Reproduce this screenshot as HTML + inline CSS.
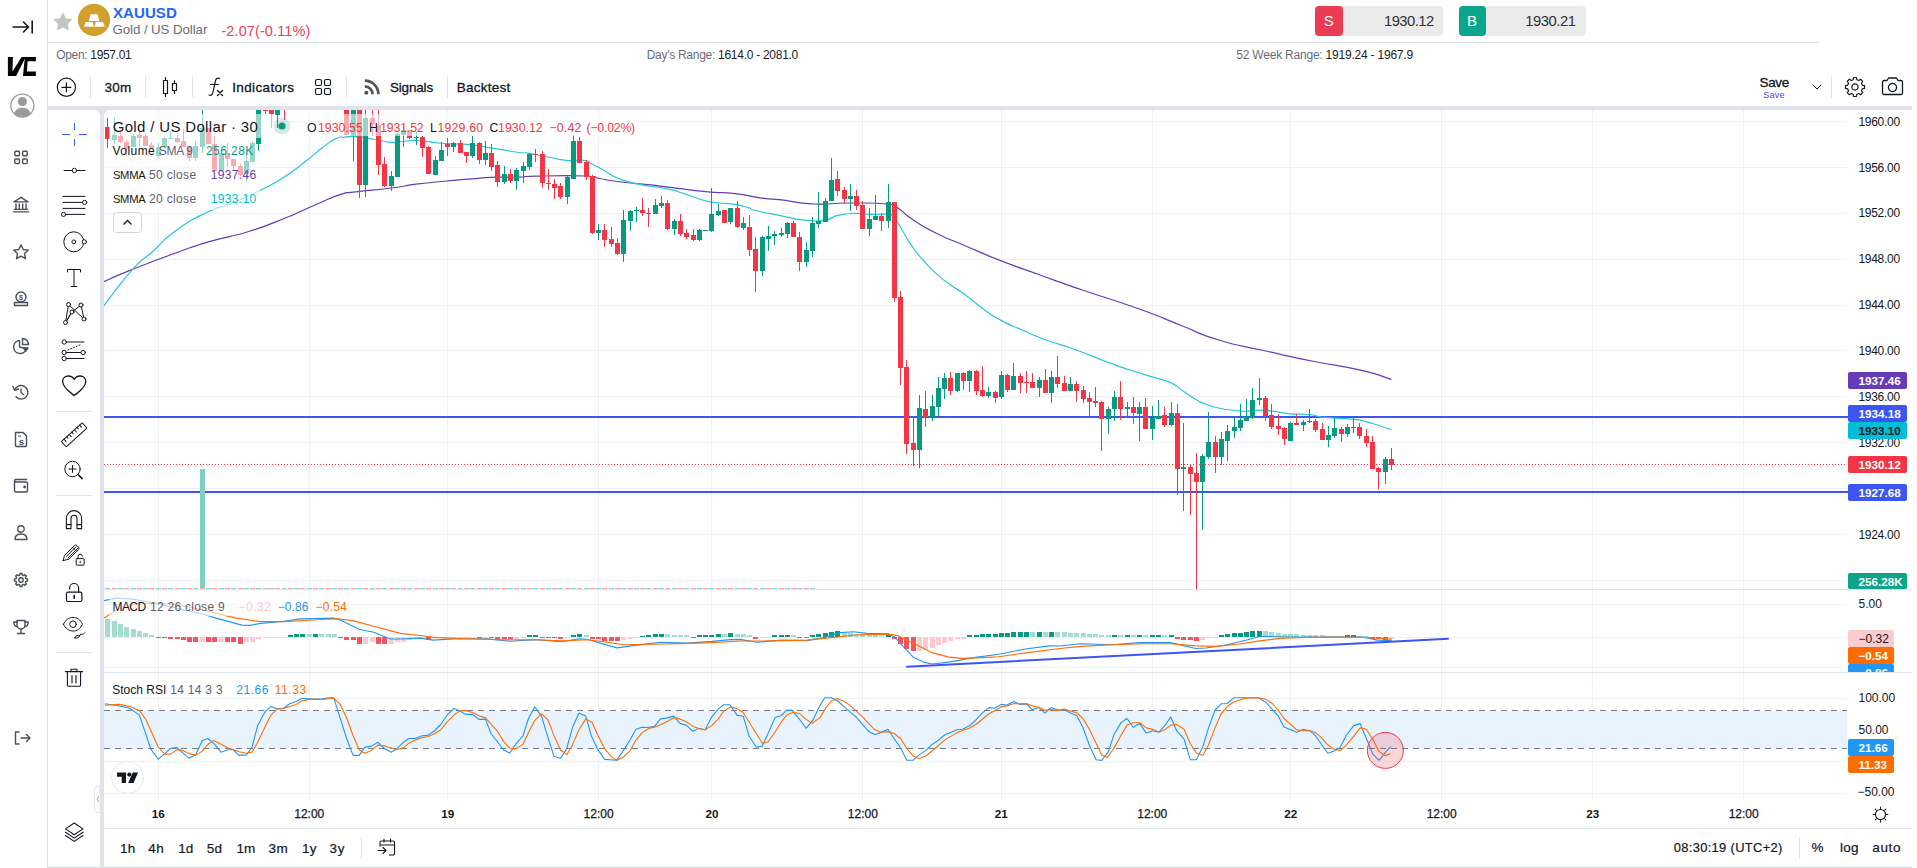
<!DOCTYPE html><html><head><meta charset="utf-8"><title>XAUUSD Chart</title><style>
*{box-sizing:border-box;margin:0;padding:0}
html,body{width:1917px;height:868px;overflow:hidden;background:#fff}
body{font-family:"Liberation Sans",sans-serif;color:#131722;position:relative}
.abs{position:absolute}
.chart{position:absolute;left:0;top:0}
.t{position:absolute;white-space:nowrap;line-height:1}
.sep{position:absolute;width:1px;background:#E0E3EB}
.ic{position:absolute}
.b{display:inline-block;width:0;height:0}
</style></head><body><div class="abs" style="left:47px;top:0;width:1px;height:868px;background:#E0E3EB"></div><div class="abs" style="left:48px;top:42px;width:1771px;height:1px;background:#DADDE3"></div><div class="abs" style="left:48px;top:106px;width:1864px;height:4px;background:#E0E3EB"></div><div class="abs" style="left:100px;top:106px;width:4px;height:762px;background:#E0E3EB"></div><svg class="chart" width="1917" height="868"><rect x="47.5" y="866.5" width="1864.5" height="1.5" fill="#E0E3EB"/></svg><div class="abs" style="left:104px;top:110px;width:8px;height:8px;background:#E0E3EB"></div><div class="abs" style="left:104px;top:110px;width:16px;height:16px;background:#fff;border-top-left-radius:6px"></div><div class="abs" style="left:92px;top:110px;width:8px;height:8px;background:#E0E3EB"></div><div class="abs" style="left:84px;top:110px;width:16px;height:16px;background:#fff;border-top-right-radius:6px"></div><svg class="chart" width="1917" height="868" viewBox="0 0 1917 868" font-family="Liberation Sans, sans-serif"><defs><clipPath id="cm"><rect x="104" y="110" width="1743" height="479"/></clipPath><clipPath id="c2"><rect x="104" y="590" width="1743" height="82"/></clipPath><clipPath id="c3"><rect x="104" y="673" width="1743" height="127"/></clipPath><clipPath id="cax"><rect x="1847" y="590" width="66" height="82"/></clipPath></defs><rect x="158" y="110" width="1" height="690" fill="#F0F1F4"/><rect x="309" y="110" width="1" height="690" fill="#F0F1F4"/><rect x="447" y="110" width="1" height="690" fill="#F0F1F4"/><rect x="598" y="110" width="1" height="690" fill="#F0F1F4"/><rect x="711" y="110" width="1" height="690" fill="#F0F1F4"/><rect x="862" y="110" width="1" height="690" fill="#F0F1F4"/><rect x="1001" y="110" width="1" height="690" fill="#F0F1F4"/><rect x="1152" y="110" width="1" height="690" fill="#F0F1F4"/><rect x="1290" y="110" width="1" height="690" fill="#F0F1F4"/><rect x="1441" y="110" width="1" height="690" fill="#F0F1F4"/><rect x="1592" y="110" width="1" height="690" fill="#F0F1F4"/><rect x="1743" y="110" width="1" height="690" fill="#F0F1F4"/><rect x="104" y="121" width="1743" height="1" fill="#F0F1F4"/><rect x="104" y="167" width="1743" height="1" fill="#F0F1F4"/><rect x="104" y="213" width="1743" height="1" fill="#F0F1F4"/><rect x="104" y="259" width="1743" height="1" fill="#F0F1F4"/><rect x="104" y="305" width="1743" height="1" fill="#F0F1F4"/><rect x="104" y="350" width="1743" height="1" fill="#F0F1F4"/><rect x="104" y="396" width="1743" height="1" fill="#F0F1F4"/><rect x="104" y="442" width="1743" height="1" fill="#F0F1F4"/><rect x="104" y="488" width="1743" height="1" fill="#F0F1F4"/><rect x="104" y="534" width="1743" height="1" fill="#F0F1F4"/><rect x="104" y="580" width="1743" height="1" fill="#F0F1F4"/><rect x="104" y="604" width="1743" height="1" fill="#F0F1F4"/><rect x="104" y="637" width="1743" height="1" fill="#F0F1F4"/><rect x="104" y="667" width="1743" height="1" fill="#F0F1F4"/><rect x="104" y="698" width="1743" height="1" fill="#F0F1F4"/><rect x="104" y="730" width="1743" height="1" fill="#F0F1F4"/><rect x="104" y="761" width="1743" height="1" fill="#F0F1F4"/><rect x="104" y="793" width="1743" height="1" fill="#F0F1F4"/><rect x="104" y="711" width="1743" height="38" fill="#E8F3FD"/><path d="M104 710.5H1847M104 748.5H1847" stroke="#787B86" stroke-width="1" stroke-dasharray="6 5" fill="none"/><rect x="104" y="589" width="1808" height="1" fill="#E0E3EB"/><rect x="104" y="672" width="1808" height="1" fill="#E0E3EB"/><rect x="104" y="828" width="1808" height="1" fill="#E0E3EB"/><rect x="104" y="416" width="1744" height="2" fill="#3D55F2"/><rect x="104" y="491" width="1744" height="2" fill="#3D55F2"/><g clip-path="url(#cm)" fill="none" stroke-linejoin="round" stroke-linecap="round"><path d="M103.8 281.7C112.0 278.2 109.9 278.4 131.3 269.9C152.7 261.3 151.4 261.8 175.1 253.2C198.8 244.7 187.8 248.0 210.2 241.4C232.5 234.8 227.3 238.3 249.6 231.3C271.9 224.3 271.0 223.4 284.6 218.2C298.2 213.0 284.5 218.6 295.0 214.0C305.5 209.4 305.9 208.9 319.6 203.0C333.3 197.1 329.9 197.8 340.8 194.4C351.7 191.0 340.8 193.7 356.0 191.8C371.2 189.9 373.5 190.3 391.5 188.0C409.5 185.7 399.4 186.3 416.0 184.2C432.6 182.1 430.0 182.6 447.0 181.0C464.0 179.4 458.1 179.9 472.6 178.8C487.2 177.7 481.4 177.7 495.5 177.2C509.6 176.7 507.6 177.5 519.5 177.2C531.4 176.9 515.8 176.6 535.2 176.2C554.6 175.8 564.8 175.3 584.2 176.0C603.6 176.7 590.0 176.8 600.0 178.5C610.0 180.2 597.6 179.0 617.5 181.5C637.4 184.0 640.0 183.7 666.4 186.8C692.8 189.9 685.0 189.7 705.6 191.7C726.2 193.7 718.7 191.7 735.0 193.6C751.3 195.5 746.7 196.1 760.0 197.9C773.3 199.7 762.9 197.9 779.2 199.7C795.5 201.5 793.3 203.0 814.4 204.0C835.5 205.0 827.3 202.9 849.6 203.0C871.9 203.1 874.1 202.5 888.8 204.2C903.5 205.8 891.6 204.0 898.6 208.5C905.6 213.0 901.1 212.0 912.3 219.3C923.5 226.7 920.0 225.1 935.8 233.0C951.6 240.9 945.8 237.5 965.1 245.7C984.4 253.9 977.5 251.6 1000.0 260.4C1022.5 269.2 1015.2 266.1 1040.0 275.0C1064.8 283.9 1052.5 279.7 1082.5 290.0C1112.5 300.3 1110.8 298.8 1140.0 309.3C1169.2 319.8 1156.4 315.8 1180.0 325.0C1203.6 334.2 1193.7 332.4 1218.8 340.0C1243.9 347.6 1235.9 344.2 1263.7 350.5C1291.5 356.8 1282.9 355.2 1311.6 361.0C1340.3 366.8 1335.7 364.4 1359.5 369.9C1383.3 375.4 1381.5 376.5 1391.0 379.3" stroke="#673AB7" stroke-width="1.2"/><path d="M103.8 305.8C112.0 295.3 116.5 287.2 131.3 270.8C146.1 254.4 140.1 262.9 153.2 251.0C166.3 239.2 159.4 242.7 175.1 231.3C190.8 219.9 188.1 221.6 205.5 213.0C222.9 204.4 217.9 208.8 233.0 202.6C248.1 196.4 240.7 200.1 255.9 192.5C271.1 184.9 268.2 187.1 283.8 177.2C299.4 167.3 296.4 168.3 307.9 159.5C319.4 150.7 313.6 154.3 322.0 148.0C330.4 141.7 328.9 141.8 335.8 138.6C342.7 135.4 338.9 137.8 345.0 137.2C351.1 136.6 347.0 136.0 356.0 136.7C365.0 137.4 364.4 137.8 375.0 139.5C385.6 141.2 383.1 141.8 391.5 142.4C399.9 143.0 395.6 142.1 403.0 141.5C410.4 140.9 405.4 140.1 416.0 140.5C426.6 140.9 426.7 141.9 438.4 143.0C450.1 144.1 444.7 143.4 455.0 144.0C465.3 144.6 460.5 143.6 472.6 145.0C484.8 146.4 481.4 146.4 495.5 148.7C509.6 150.9 509.3 151.1 519.5 152.5C529.7 153.9 520.9 152.0 529.4 153.3C537.9 154.7 536.8 154.9 548.0 157.0C559.2 159.1 555.7 159.3 566.6 160.3C577.5 161.3 576.6 159.2 584.2 160.3C591.8 161.4 585.8 160.8 592.0 164.0C598.2 167.2 597.4 166.8 605.0 171.0C612.6 175.2 607.9 174.2 617.5 178.0C627.1 181.8 622.3 180.6 637.0 183.8C651.7 187.0 652.0 185.6 666.4 188.7C680.8 191.8 673.2 190.3 685.0 194.0C696.8 197.7 695.1 198.2 705.6 200.9C716.1 203.6 711.2 201.9 720.0 203.0C728.8 204.1 726.6 203.1 735.0 204.4C743.4 205.8 741.8 205.7 748.0 207.5C754.2 209.3 746.3 208.1 755.7 210.5C765.1 212.9 763.9 212.5 779.2 215.4C794.5 218.3 792.5 219.0 806.6 220.3C820.7 221.7 816.7 221.4 826.1 219.9C835.5 218.4 829.1 217.3 837.9 215.4C846.7 213.5 846.1 213.7 855.5 213.4C864.9 213.1 859.2 214.1 869.2 214.4C879.2 214.7 881.7 213.6 888.8 214.4C895.9 215.2 890.1 214.1 893.0 217.0C895.9 219.9 895.0 218.8 898.6 224.2C902.2 229.6 900.9 228.2 905.0 235.0C909.1 241.8 906.9 239.2 912.3 246.7C917.7 254.2 916.0 252.1 923.0 260.0C930.0 267.9 927.7 265.8 935.8 273.1C943.9 280.5 941.2 278.0 950.0 284.5C958.8 291.0 954.7 287.1 965.1 294.7C975.5 302.3 973.8 302.1 984.7 309.9C995.6 317.7 990.3 314.6 1001.5 320.6C1012.7 326.6 1009.2 324.4 1022.0 330.0C1034.8 335.6 1027.7 333.1 1044.2 339.2C1060.7 345.3 1058.0 343.3 1077.0 350.2C1096.0 357.1 1091.7 356.3 1107.6 362.2C1123.5 368.1 1116.7 365.6 1130.0 370.0C1143.3 374.4 1140.1 373.2 1152.1 376.9C1164.1 380.6 1160.8 378.2 1170.1 382.4C1179.4 386.6 1175.1 385.8 1183.0 391.0C1190.9 396.2 1189.2 395.6 1196.4 399.7C1203.6 403.8 1200.4 402.0 1207.0 404.5C1213.6 407.0 1210.1 406.2 1218.5 408.0C1226.9 409.8 1226.4 409.5 1235.1 410.5C1243.8 411.5 1240.1 411.3 1247.6 411.2C1255.1 411.1 1252.5 410.1 1260.0 410.1C1267.5 410.1 1263.5 410.1 1272.5 411.2C1281.5 412.3 1279.1 412.8 1290.0 413.8C1300.9 414.8 1298.1 413.4 1308.7 414.5C1319.3 415.6 1312.0 416.0 1325.3 417.4C1338.6 418.8 1340.5 417.8 1353.0 419.1C1365.5 420.5 1359.0 420.0 1366.8 421.9C1374.6 423.8 1371.7 423.2 1379.0 425.5C1386.3 427.8 1387.4 428.4 1391.0 429.7" stroke="#26C6DA" stroke-width="1.2"/></g><g clip-path="url(#cm)" shape-rendering="crispEdges"><rect x="200" y="469" width="5" height="120" fill="#7FD0C3"/><rect x="105" y="588" width="5" height="1" fill="#92D2CC"/><rect x="112" y="588" width="5" height="1" fill="#F7A9A7"/><rect x="118" y="588" width="5" height="1" fill="#92D2CC"/><rect x="124" y="588" width="5" height="1" fill="#F7A9A7"/><rect x="131" y="588" width="5" height="1" fill="#92D2CC"/><rect x="137" y="588" width="5" height="1" fill="#F7A9A7"/><rect x="143" y="588" width="5" height="1" fill="#92D2CC"/><rect x="149" y="588" width="5" height="1" fill="#F7A9A7"/><rect x="156" y="588" width="5" height="1" fill="#92D2CC"/><rect x="162" y="588" width="5" height="1" fill="#F7A9A7"/><rect x="168" y="588" width="5" height="1" fill="#92D2CC"/><rect x="175" y="588" width="5" height="1" fill="#F7A9A7"/><rect x="181" y="588" width="5" height="1" fill="#92D2CC"/><rect x="187" y="588" width="5" height="1" fill="#F7A9A7"/><rect x="193" y="588" width="5" height="1" fill="#92D2CC"/><rect x="200" y="588" width="5" height="1" fill="#F7A9A7"/><rect x="206" y="588" width="5" height="1" fill="#92D2CC"/><rect x="212" y="588" width="5" height="1" fill="#F7A9A7"/><rect x="219" y="588" width="5" height="1" fill="#92D2CC"/><rect x="225" y="588" width="5" height="1" fill="#F7A9A7"/><rect x="231" y="588" width="5" height="1" fill="#92D2CC"/><rect x="238" y="588" width="5" height="1" fill="#F7A9A7"/><rect x="244" y="588" width="5" height="1" fill="#92D2CC"/><rect x="250" y="588" width="5" height="1" fill="#F7A9A7"/><rect x="256" y="588" width="5" height="1" fill="#92D2CC"/><rect x="263" y="588" width="5" height="1" fill="#F7A9A7"/><rect x="269" y="588" width="5" height="1" fill="#92D2CC"/><rect x="275" y="588" width="5" height="1" fill="#F7A9A7"/><rect x="282" y="588" width="5" height="1" fill="#92D2CC"/><rect x="288" y="588" width="5" height="1" fill="#F7A9A7"/><rect x="294" y="588" width="5" height="1" fill="#92D2CC"/><rect x="300" y="588" width="5" height="1" fill="#F7A9A7"/><rect x="307" y="588" width="5" height="1" fill="#92D2CC"/><rect x="313" y="588" width="5" height="1" fill="#F7A9A7"/><rect x="319" y="588" width="5" height="1" fill="#92D2CC"/><rect x="326" y="588" width="5" height="1" fill="#F7A9A7"/><rect x="332" y="588" width="5" height="1" fill="#92D2CC"/><rect x="338" y="588" width="5" height="1" fill="#F7A9A7"/><rect x="344" y="588" width="5" height="1" fill="#92D2CC"/><rect x="351" y="588" width="5" height="1" fill="#F7A9A7"/><rect x="357" y="588" width="5" height="1" fill="#92D2CC"/><rect x="363" y="588" width="5" height="1" fill="#F7A9A7"/><rect x="370" y="588" width="5" height="1" fill="#92D2CC"/><rect x="376" y="588" width="5" height="1" fill="#F7A9A7"/><rect x="382" y="588" width="5" height="1" fill="#92D2CC"/><rect x="389" y="588" width="5" height="1" fill="#F7A9A7"/><rect x="395" y="588" width="5" height="1" fill="#92D2CC"/><rect x="401" y="588" width="5" height="1" fill="#F7A9A7"/><rect x="407" y="588" width="5" height="1" fill="#92D2CC"/><rect x="414" y="588" width="5" height="1" fill="#F7A9A7"/><rect x="420" y="588" width="5" height="1" fill="#92D2CC"/><rect x="426" y="588" width="5" height="1" fill="#F7A9A7"/><rect x="433" y="588" width="5" height="1" fill="#92D2CC"/><rect x="439" y="588" width="5" height="1" fill="#F7A9A7"/><rect x="445" y="588" width="5" height="1" fill="#92D2CC"/><rect x="451" y="588" width="5" height="1" fill="#F7A9A7"/><rect x="458" y="588" width="5" height="1" fill="#92D2CC"/><rect x="464" y="588" width="5" height="1" fill="#F7A9A7"/><rect x="470" y="588" width="5" height="1" fill="#92D2CC"/><rect x="477" y="588" width="5" height="1" fill="#F7A9A7"/><rect x="483" y="588" width="5" height="1" fill="#92D2CC"/><rect x="489" y="588" width="5" height="1" fill="#F7A9A7"/><rect x="495" y="588" width="5" height="1" fill="#92D2CC"/><rect x="502" y="588" width="5" height="1" fill="#F7A9A7"/><rect x="508" y="588" width="5" height="1" fill="#92D2CC"/><rect x="514" y="588" width="5" height="1" fill="#F7A9A7"/><rect x="521" y="588" width="5" height="1" fill="#92D2CC"/><rect x="527" y="588" width="5" height="1" fill="#F7A9A7"/><rect x="533" y="588" width="5" height="1" fill="#92D2CC"/><rect x="540" y="588" width="5" height="1" fill="#F7A9A7"/><rect x="546" y="588" width="5" height="1" fill="#92D2CC"/><rect x="552" y="588" width="5" height="1" fill="#F7A9A7"/><rect x="558" y="588" width="5" height="1" fill="#92D2CC"/><rect x="565" y="588" width="5" height="1" fill="#F7A9A7"/><rect x="571" y="588" width="5" height="1" fill="#92D2CC"/><rect x="577" y="588" width="5" height="1" fill="#F7A9A7"/><rect x="584" y="588" width="5" height="1" fill="#92D2CC"/><rect x="590" y="588" width="5" height="1" fill="#F7A9A7"/><rect x="596" y="588" width="5" height="1" fill="#92D2CC"/><rect x="602" y="588" width="5" height="1" fill="#F7A9A7"/><rect x="609" y="588" width="5" height="1" fill="#92D2CC"/><rect x="615" y="588" width="5" height="1" fill="#F7A9A7"/><rect x="621" y="588" width="5" height="1" fill="#92D2CC"/><rect x="628" y="588" width="5" height="1" fill="#F7A9A7"/><rect x="634" y="588" width="5" height="1" fill="#92D2CC"/><rect x="640" y="588" width="5" height="1" fill="#F7A9A7"/><rect x="646" y="588" width="5" height="1" fill="#92D2CC"/><rect x="653" y="588" width="5" height="1" fill="#F7A9A7"/><rect x="659" y="588" width="5" height="1" fill="#92D2CC"/><rect x="665" y="588" width="5" height="1" fill="#F7A9A7"/><rect x="672" y="588" width="5" height="1" fill="#92D2CC"/><rect x="678" y="588" width="5" height="1" fill="#F7A9A7"/><rect x="684" y="588" width="5" height="1" fill="#92D2CC"/><rect x="691" y="588" width="5" height="1" fill="#F7A9A7"/><rect x="697" y="588" width="5" height="1" fill="#92D2CC"/><rect x="703" y="588" width="5" height="1" fill="#F7A9A7"/><rect x="709" y="588" width="5" height="1" fill="#92D2CC"/><rect x="716" y="588" width="5" height="1" fill="#F7A9A7"/><rect x="722" y="588" width="5" height="1" fill="#92D2CC"/><rect x="728" y="588" width="5" height="1" fill="#F7A9A7"/><rect x="735" y="588" width="5" height="1" fill="#92D2CC"/><rect x="741" y="588" width="5" height="1" fill="#F7A9A7"/><rect x="747" y="588" width="5" height="1" fill="#92D2CC"/><rect x="753" y="588" width="5" height="1" fill="#F7A9A7"/><rect x="760" y="588" width="5" height="1" fill="#92D2CC"/><rect x="766" y="588" width="5" height="1" fill="#F7A9A7"/><rect x="772" y="588" width="5" height="1" fill="#92D2CC"/><rect x="779" y="588" width="5" height="1" fill="#F7A9A7"/><rect x="785" y="588" width="5" height="1" fill="#92D2CC"/><rect x="791" y="588" width="5" height="1" fill="#F7A9A7"/><rect x="797" y="588" width="5" height="1" fill="#92D2CC"/><rect x="804" y="588" width="5" height="1" fill="#F7A9A7"/><rect x="810" y="588" width="5" height="1" fill="#92D2CC"/><rect x="107" y="118" width="1" height="30" fill="#F23645"/><rect x="105" y="127" width="5" height="12" fill="#F23645"/><rect x="114" y="118" width="1" height="26" fill="#089981"/><rect x="112" y="135" width="5" height="5" fill="#089981"/><rect x="120" y="131" width="1" height="12" fill="#F23645"/><rect x="118" y="136" width="5" height="6" fill="#F23645"/><rect x="126" y="140" width="1" height="16" fill="#F23645"/><rect x="124" y="142" width="5" height="7" fill="#F23645"/><rect x="133" y="134" width="1" height="13" fill="#089981"/><rect x="131" y="136" width="5" height="11" fill="#089981"/><rect x="139" y="132" width="1" height="15" fill="#F23645"/><rect x="137" y="135" width="5" height="3" fill="#F23645"/><rect x="145" y="134" width="1" height="12" fill="#F23645"/><rect x="143" y="136" width="5" height="10" fill="#F23645"/><rect x="151" y="142" width="1" height="7" fill="#F23645"/><rect x="149" y="145" width="5" height="4" fill="#F23645"/><rect x="158" y="143" width="1" height="14" fill="#089981"/><rect x="156" y="147" width="5" height="9" fill="#089981"/><rect x="164" y="137" width="1" height="10" fill="#089981"/><rect x="162" y="138" width="5" height="9" fill="#089981"/><rect x="170" y="131" width="1" height="8" fill="#089981"/><rect x="168" y="138" width="5" height="1" fill="#089981"/><rect x="177" y="135" width="1" height="8" fill="#F23645"/><rect x="175" y="138" width="5" height="4" fill="#F23645"/><rect x="183" y="129" width="1" height="18" fill="#F23645"/><rect x="181" y="141" width="5" height="6" fill="#F23645"/><rect x="189" y="147" width="1" height="14" fill="#F23645"/><rect x="187" y="147" width="5" height="11" fill="#F23645"/><rect x="195" y="141" width="1" height="20" fill="#089981"/><rect x="193" y="146" width="5" height="12" fill="#089981"/><rect x="202" y="110" width="1" height="43" fill="#089981"/><rect x="200" y="128" width="5" height="19" fill="#089981"/><rect x="208" y="128" width="1" height="16" fill="#F23645"/><rect x="206" y="128" width="5" height="16" fill="#F23645"/><rect x="214" y="136" width="1" height="35" fill="#F23645"/><rect x="212" y="144" width="5" height="27" fill="#F23645"/><rect x="221" y="153" width="1" height="18" fill="#089981"/><rect x="219" y="153" width="5" height="18" fill="#089981"/><rect x="227" y="143" width="1" height="24" fill="#F23645"/><rect x="225" y="153" width="5" height="6" fill="#F23645"/><rect x="233" y="159" width="1" height="11" fill="#F23645"/><rect x="231" y="159" width="5" height="7" fill="#F23645"/><rect x="240" y="164" width="1" height="12" fill="#F23645"/><rect x="238" y="166" width="5" height="9" fill="#F23645"/><rect x="246" y="153" width="1" height="29" fill="#089981"/><rect x="244" y="161" width="5" height="13" fill="#089981"/><rect x="252" y="141" width="1" height="21" fill="#089981"/><rect x="250" y="143" width="5" height="19" fill="#089981"/><rect x="258" y="95" width="1" height="56" fill="#089981"/><rect x="256" y="95" width="5" height="49" fill="#089981"/><rect x="265" y="95" width="1" height="19" fill="#F23645"/><rect x="263" y="95" width="5" height="16" fill="#F23645"/><rect x="271" y="95" width="1" height="33" fill="#F23645"/><rect x="269" y="95" width="5" height="19" fill="#F23645"/><rect x="277" y="95" width="1" height="33" fill="#089981"/><rect x="275" y="95" width="5" height="20" fill="#089981"/><rect x="284" y="95" width="1" height="25" fill="#F23645"/><rect x="282" y="95" width="5" height="10" fill="#F23645"/><rect x="346" y="95" width="1" height="40" fill="#F23645"/><rect x="344" y="95" width="5" height="40" fill="#F23645"/><rect x="353" y="95" width="1" height="66" fill="#089981"/><rect x="351" y="95" width="5" height="41" fill="#089981"/><rect x="359" y="95" width="1" height="103" fill="#F23645"/><rect x="357" y="95" width="5" height="90" fill="#F23645"/><rect x="365" y="95" width="1" height="102" fill="#089981"/><rect x="363" y="118" width="5" height="67" fill="#089981"/><rect x="372" y="95" width="1" height="41" fill="#F23645"/><rect x="370" y="118" width="5" height="6" fill="#F23645"/><rect x="378" y="95" width="1" height="80" fill="#F23645"/><rect x="376" y="125" width="5" height="40" fill="#F23645"/><rect x="384" y="157" width="1" height="30" fill="#F23645"/><rect x="382" y="164" width="5" height="22" fill="#F23645"/><rect x="391" y="171" width="1" height="20" fill="#089981"/><rect x="389" y="176" width="5" height="10" fill="#089981"/><rect x="397" y="131" width="1" height="46" fill="#089981"/><rect x="395" y="134" width="5" height="43" fill="#089981"/><rect x="403" y="126" width="1" height="21" fill="#089981"/><rect x="401" y="130" width="5" height="5" fill="#089981"/><rect x="409" y="130" width="1" height="9" fill="#F23645"/><rect x="407" y="130" width="5" height="8" fill="#F23645"/><rect x="416" y="132" width="1" height="13" fill="#089981"/><rect x="414" y="137" width="5" height="1" fill="#089981"/><rect x="422" y="136" width="1" height="21" fill="#F23645"/><rect x="420" y="137" width="5" height="11" fill="#F23645"/><rect x="428" y="146" width="1" height="28" fill="#F23645"/><rect x="426" y="147" width="5" height="27" fill="#F23645"/><rect x="435" y="156" width="1" height="19" fill="#089981"/><rect x="433" y="160" width="5" height="15" fill="#089981"/><rect x="441" y="142" width="1" height="19" fill="#089981"/><rect x="439" y="150" width="5" height="11" fill="#089981"/><rect x="447" y="138" width="1" height="18" fill="#F23645"/><rect x="445" y="144" width="5" height="3" fill="#F23645"/><rect x="453" y="142" width="1" height="10" fill="#089981"/><rect x="451" y="143" width="5" height="4" fill="#089981"/><rect x="460" y="140" width="1" height="13" fill="#F23645"/><rect x="458" y="143" width="5" height="10" fill="#F23645"/><rect x="466" y="152" width="1" height="11" fill="#F23645"/><rect x="464" y="152" width="5" height="4" fill="#F23645"/><rect x="472" y="136" width="1" height="22" fill="#089981"/><rect x="470" y="143" width="5" height="13" fill="#089981"/><rect x="479" y="142" width="1" height="22" fill="#F23645"/><rect x="477" y="143" width="5" height="17" fill="#F23645"/><rect x="485" y="141" width="1" height="24" fill="#089981"/><rect x="483" y="153" width="5" height="7" fill="#089981"/><rect x="491" y="144" width="1" height="27" fill="#F23645"/><rect x="489" y="153" width="5" height="14" fill="#F23645"/><rect x="497" y="161" width="1" height="26" fill="#F23645"/><rect x="495" y="165" width="5" height="17" fill="#F23645"/><rect x="504" y="166" width="1" height="18" fill="#089981"/><rect x="502" y="174" width="5" height="8" fill="#089981"/><rect x="510" y="169" width="1" height="14" fill="#F23645"/><rect x="508" y="174" width="5" height="7" fill="#F23645"/><rect x="516" y="168" width="1" height="22" fill="#089981"/><rect x="514" y="170" width="5" height="11" fill="#089981"/><rect x="523" y="162" width="1" height="21" fill="#089981"/><rect x="521" y="166" width="5" height="5" fill="#089981"/><rect x="529" y="153" width="1" height="17" fill="#089981"/><rect x="527" y="154" width="5" height="13" fill="#089981"/><rect x="535" y="149" width="1" height="13" fill="#F23645"/><rect x="533" y="154" width="5" height="1" fill="#F23645"/><rect x="542" y="151" width="1" height="37" fill="#F23645"/><rect x="540" y="154" width="5" height="29" fill="#F23645"/><rect x="548" y="169" width="1" height="21" fill="#F23645"/><rect x="546" y="183" width="5" height="1" fill="#F23645"/><rect x="554" y="179" width="1" height="20" fill="#F23645"/><rect x="552" y="184" width="5" height="4" fill="#F23645"/><rect x="560" y="183" width="1" height="16" fill="#F23645"/><rect x="558" y="186" width="5" height="11" fill="#F23645"/><rect x="567" y="176" width="1" height="28" fill="#089981"/><rect x="565" y="177" width="5" height="20" fill="#089981"/><rect x="573" y="135" width="1" height="44" fill="#089981"/><rect x="571" y="141" width="5" height="38" fill="#089981"/><rect x="579" y="137" width="1" height="26" fill="#F23645"/><rect x="577" y="141" width="5" height="22" fill="#F23645"/><rect x="586" y="160" width="1" height="20" fill="#F23645"/><rect x="584" y="162" width="5" height="15" fill="#F23645"/><rect x="592" y="175" width="1" height="59" fill="#F23645"/><rect x="590" y="176" width="5" height="57" fill="#F23645"/><rect x="598" y="224" width="1" height="16" fill="#089981"/><rect x="596" y="230" width="5" height="3" fill="#089981"/><rect x="604" y="224" width="1" height="23" fill="#F23645"/><rect x="602" y="230" width="5" height="10" fill="#F23645"/><rect x="611" y="227" width="1" height="20" fill="#F23645"/><rect x="609" y="239" width="5" height="5" fill="#F23645"/><rect x="617" y="238" width="1" height="17" fill="#F23645"/><rect x="615" y="243" width="5" height="11" fill="#F23645"/><rect x="623" y="210" width="1" height="52" fill="#089981"/><rect x="621" y="220" width="5" height="34" fill="#089981"/><rect x="630" y="210" width="1" height="21" fill="#089981"/><rect x="628" y="211" width="5" height="10" fill="#089981"/><rect x="636" y="207" width="1" height="15" fill="#089981"/><rect x="634" y="210" width="5" height="1" fill="#089981"/><rect x="642" y="198" width="1" height="18" fill="#F23645"/><rect x="640" y="210" width="5" height="3" fill="#F23645"/><rect x="648" y="208" width="1" height="19" fill="#F23645"/><rect x="646" y="213" width="5" height="1" fill="#F23645"/><rect x="655" y="199" width="1" height="15" fill="#089981"/><rect x="653" y="205" width="5" height="9" fill="#089981"/><rect x="661" y="196" width="1" height="12" fill="#089981"/><rect x="659" y="203" width="5" height="3" fill="#089981"/><rect x="667" y="200" width="1" height="30" fill="#F23645"/><rect x="665" y="203" width="5" height="26" fill="#F23645"/><rect x="674" y="219" width="1" height="16" fill="#089981"/><rect x="672" y="221" width="5" height="8" fill="#089981"/><rect x="680" y="214" width="1" height="22" fill="#F23645"/><rect x="678" y="221" width="5" height="13" fill="#F23645"/><rect x="686" y="229" width="1" height="10" fill="#F23645"/><rect x="684" y="233" width="5" height="4" fill="#F23645"/><rect x="693" y="229" width="1" height="12" fill="#F23645"/><rect x="691" y="235" width="5" height="5" fill="#F23645"/><rect x="699" y="229" width="1" height="12" fill="#089981"/><rect x="697" y="230" width="5" height="10" fill="#089981"/><rect x="705" y="230" width="1" height="1" fill="#089981"/><rect x="703" y="230" width="5" height="1" fill="#089981"/><rect x="711" y="188" width="1" height="44" fill="#089981"/><rect x="709" y="214" width="5" height="17" fill="#089981"/><rect x="718" y="204" width="1" height="12" fill="#089981"/><rect x="716" y="211" width="5" height="4" fill="#089981"/><rect x="724" y="210" width="1" height="13" fill="#F23645"/><rect x="722" y="210" width="5" height="13" fill="#F23645"/><rect x="730" y="208" width="1" height="16" fill="#089981"/><rect x="728" y="208" width="5" height="14" fill="#089981"/><rect x="737" y="201" width="1" height="27" fill="#F23645"/><rect x="735" y="208" width="5" height="19" fill="#F23645"/><rect x="743" y="217" width="1" height="13" fill="#089981"/><rect x="741" y="223" width="5" height="5" fill="#089981"/><rect x="749" y="215" width="1" height="41" fill="#F23645"/><rect x="747" y="227" width="5" height="23" fill="#F23645"/><rect x="755" y="237" width="1" height="55" fill="#F23645"/><rect x="753" y="249" width="5" height="22" fill="#F23645"/><rect x="762" y="236" width="1" height="40" fill="#089981"/><rect x="760" y="237" width="5" height="34" fill="#089981"/><rect x="768" y="226" width="1" height="25" fill="#089981"/><rect x="766" y="236" width="5" height="3" fill="#089981"/><rect x="774" y="231" width="1" height="14" fill="#089981"/><rect x="772" y="234" width="5" height="2" fill="#089981"/><rect x="781" y="228" width="1" height="9" fill="#089981"/><rect x="779" y="233" width="5" height="2" fill="#089981"/><rect x="787" y="222" width="1" height="16" fill="#089981"/><rect x="785" y="223" width="5" height="11" fill="#089981"/><rect x="793" y="221" width="1" height="16" fill="#F23645"/><rect x="791" y="223" width="5" height="14" fill="#F23645"/><rect x="799" y="232" width="1" height="39" fill="#F23645"/><rect x="797" y="237" width="5" height="25" fill="#F23645"/><rect x="806" y="242" width="1" height="25" fill="#089981"/><rect x="804" y="250" width="5" height="12" fill="#089981"/><rect x="812" y="217" width="1" height="40" fill="#089981"/><rect x="810" y="223" width="5" height="28" fill="#089981"/><rect x="818" y="192" width="1" height="36" fill="#089981"/><rect x="816" y="221" width="5" height="3" fill="#089981"/><rect x="825" y="198" width="1" height="24" fill="#089981"/><rect x="823" y="201" width="5" height="21" fill="#089981"/><rect x="831" y="158" width="1" height="43" fill="#089981"/><rect x="829" y="180" width="5" height="21" fill="#089981"/><rect x="837" y="171" width="1" height="25" fill="#F23645"/><rect x="835" y="179" width="5" height="12" fill="#F23645"/><rect x="844" y="187" width="1" height="16" fill="#F23645"/><rect x="842" y="190" width="5" height="9" fill="#F23645"/><rect x="850" y="184" width="1" height="27" fill="#089981"/><rect x="848" y="196" width="5" height="3" fill="#089981"/><rect x="856" y="190" width="1" height="20" fill="#F23645"/><rect x="854" y="196" width="5" height="10" fill="#F23645"/><rect x="862" y="201" width="1" height="28" fill="#F23645"/><rect x="860" y="205" width="5" height="24" fill="#F23645"/><rect x="869" y="208" width="1" height="28" fill="#089981"/><rect x="867" y="219" width="5" height="10" fill="#089981"/><rect x="875" y="195" width="1" height="25" fill="#089981"/><rect x="873" y="216" width="5" height="4" fill="#089981"/><rect x="881" y="213" width="1" height="18" fill="#F23645"/><rect x="879" y="216" width="5" height="5" fill="#F23645"/><rect x="888" y="184" width="1" height="44" fill="#089981"/><rect x="886" y="202" width="5" height="19" fill="#089981"/><rect x="894" y="202" width="1" height="100" fill="#F23645"/><rect x="892" y="202" width="5" height="96" fill="#F23645"/><rect x="900" y="291" width="1" height="94" fill="#F23645"/><rect x="898" y="297" width="5" height="71" fill="#F23645"/><rect x="906" y="360" width="1" height="94" fill="#F23645"/><rect x="904" y="367" width="5" height="77" fill="#F23645"/><rect x="913" y="416" width="1" height="50" fill="#F23645"/><rect x="911" y="443" width="5" height="7" fill="#F23645"/><rect x="919" y="395" width="1" height="73" fill="#089981"/><rect x="917" y="408" width="5" height="42" fill="#089981"/><rect x="925" y="391" width="1" height="36" fill="#F23645"/><rect x="923" y="409" width="5" height="8" fill="#F23645"/><rect x="932" y="395" width="1" height="26" fill="#089981"/><rect x="930" y="406" width="5" height="11" fill="#089981"/><rect x="938" y="377" width="1" height="40" fill="#089981"/><rect x="936" y="388" width="5" height="19" fill="#089981"/><rect x="944" y="373" width="1" height="26" fill="#089981"/><rect x="942" y="378" width="5" height="11" fill="#089981"/><rect x="950" y="372" width="1" height="23" fill="#F23645"/><rect x="948" y="378" width="5" height="13" fill="#F23645"/><rect x="957" y="373" width="1" height="19" fill="#089981"/><rect x="955" y="373" width="5" height="18" fill="#089981"/><rect x="963" y="372" width="1" height="18" fill="#F23645"/><rect x="961" y="373" width="5" height="8" fill="#F23645"/><rect x="969" y="370" width="1" height="22" fill="#089981"/><rect x="967" y="371" width="5" height="10" fill="#089981"/><rect x="976" y="370" width="1" height="25" fill="#F23645"/><rect x="974" y="371" width="5" height="20" fill="#F23645"/><rect x="982" y="366" width="1" height="31" fill="#F23645"/><rect x="980" y="390" width="5" height="6" fill="#F23645"/><rect x="988" y="387" width="1" height="11" fill="#089981"/><rect x="986" y="392" width="5" height="4" fill="#089981"/><rect x="995" y="391" width="1" height="12" fill="#F23645"/><rect x="993" y="392" width="5" height="6" fill="#F23645"/><rect x="1001" y="371" width="1" height="28" fill="#089981"/><rect x="999" y="375" width="5" height="22" fill="#089981"/><rect x="1007" y="374" width="1" height="18" fill="#F23645"/><rect x="1005" y="375" width="5" height="15" fill="#F23645"/><rect x="1013" y="363" width="1" height="27" fill="#089981"/><rect x="1011" y="376" width="5" height="14" fill="#089981"/><rect x="1020" y="373" width="1" height="20" fill="#F23645"/><rect x="1018" y="376" width="5" height="7" fill="#F23645"/><rect x="1026" y="371" width="1" height="22" fill="#F23645"/><rect x="1024" y="382" width="5" height="1" fill="#F23645"/><rect x="1032" y="373" width="1" height="15" fill="#F23645"/><rect x="1030" y="382" width="5" height="6" fill="#F23645"/><rect x="1039" y="377" width="1" height="20" fill="#089981"/><rect x="1037" y="380" width="5" height="8" fill="#089981"/><rect x="1045" y="369" width="1" height="24" fill="#F23645"/><rect x="1043" y="380" width="5" height="13" fill="#F23645"/><rect x="1051" y="371" width="1" height="32" fill="#089981"/><rect x="1049" y="377" width="5" height="16" fill="#089981"/><rect x="1057" y="356" width="1" height="32" fill="#F23645"/><rect x="1055" y="377" width="5" height="7" fill="#F23645"/><rect x="1064" y="376" width="1" height="15" fill="#F23645"/><rect x="1062" y="383" width="5" height="8" fill="#F23645"/><rect x="1070" y="377" width="1" height="14" fill="#089981"/><rect x="1068" y="384" width="5" height="7" fill="#089981"/><rect x="1076" y="381" width="1" height="21" fill="#F23645"/><rect x="1074" y="384" width="5" height="7" fill="#F23645"/><rect x="1083" y="386" width="1" height="17" fill="#F23645"/><rect x="1081" y="390" width="5" height="9" fill="#F23645"/><rect x="1089" y="392" width="1" height="24" fill="#F23645"/><rect x="1087" y="398" width="5" height="4" fill="#F23645"/><rect x="1095" y="387" width="1" height="20" fill="#F23645"/><rect x="1093" y="401" width="5" height="2" fill="#F23645"/><rect x="1101" y="401" width="1" height="50" fill="#F23645"/><rect x="1099" y="402" width="5" height="17" fill="#F23645"/><rect x="1108" y="407" width="1" height="27" fill="#089981"/><rect x="1106" y="409" width="5" height="10" fill="#089981"/><rect x="1114" y="391" width="1" height="30" fill="#089981"/><rect x="1112" y="397" width="5" height="12" fill="#089981"/><rect x="1120" y="381" width="1" height="39" fill="#F23645"/><rect x="1118" y="397" width="5" height="12" fill="#F23645"/><rect x="1127" y="402" width="1" height="15" fill="#089981"/><rect x="1125" y="407" width="5" height="2" fill="#089981"/><rect x="1133" y="397" width="1" height="27" fill="#F23645"/><rect x="1131" y="407" width="5" height="6" fill="#F23645"/><rect x="1139" y="402" width="1" height="39" fill="#089981"/><rect x="1137" y="407" width="5" height="7" fill="#089981"/><rect x="1145" y="398" width="1" height="31" fill="#F23645"/><rect x="1143" y="407" width="5" height="22" fill="#F23645"/><rect x="1152" y="406" width="1" height="34" fill="#089981"/><rect x="1150" y="418" width="5" height="11" fill="#089981"/><rect x="1158" y="400" width="1" height="19" fill="#089981"/><rect x="1156" y="416" width="5" height="3" fill="#089981"/><rect x="1164" y="407" width="1" height="20" fill="#F23645"/><rect x="1162" y="415" width="5" height="10" fill="#F23645"/><rect x="1171" y="402" width="1" height="24" fill="#089981"/><rect x="1169" y="413" width="5" height="12" fill="#089981"/><rect x="1177" y="404" width="1" height="91" fill="#F23645"/><rect x="1175" y="413" width="5" height="56" fill="#F23645"/><rect x="1183" y="423" width="1" height="88" fill="#089981"/><rect x="1181" y="467" width="5" height="2" fill="#089981"/><rect x="1190" y="464" width="1" height="51" fill="#F23645"/><rect x="1188" y="467" width="5" height="7" fill="#F23645"/><rect x="1196" y="453" width="1" height="136" fill="#F23645"/><rect x="1194" y="473" width="5" height="9" fill="#F23645"/><rect x="1202" y="454" width="1" height="76" fill="#089981"/><rect x="1200" y="456" width="5" height="26" fill="#089981"/><rect x="1208" y="412" width="1" height="47" fill="#089981"/><rect x="1206" y="442" width="5" height="15" fill="#089981"/><rect x="1215" y="436" width="1" height="37" fill="#F23645"/><rect x="1213" y="442" width="5" height="15" fill="#F23645"/><rect x="1221" y="432" width="1" height="33" fill="#089981"/><rect x="1219" y="439" width="5" height="18" fill="#089981"/><rect x="1227" y="425" width="1" height="36" fill="#089981"/><rect x="1225" y="431" width="5" height="10" fill="#089981"/><rect x="1234" y="418" width="1" height="20" fill="#089981"/><rect x="1232" y="427" width="5" height="4" fill="#089981"/><rect x="1240" y="404" width="1" height="27" fill="#089981"/><rect x="1238" y="420" width="5" height="8" fill="#089981"/><rect x="1246" y="399" width="1" height="22" fill="#089981"/><rect x="1244" y="417" width="5" height="4" fill="#089981"/><rect x="1252" y="388" width="1" height="31" fill="#089981"/><rect x="1250" y="400" width="5" height="18" fill="#089981"/><rect x="1259" y="378" width="1" height="27" fill="#089981"/><rect x="1257" y="398" width="5" height="2" fill="#089981"/><rect x="1265" y="396" width="1" height="25" fill="#F23645"/><rect x="1263" y="398" width="5" height="18" fill="#F23645"/><rect x="1271" y="404" width="1" height="25" fill="#F23645"/><rect x="1269" y="415" width="5" height="12" fill="#F23645"/><rect x="1278" y="414" width="1" height="21" fill="#F23645"/><rect x="1276" y="426" width="5" height="3" fill="#F23645"/><rect x="1284" y="427" width="1" height="18" fill="#F23645"/><rect x="1282" y="428" width="5" height="11" fill="#F23645"/><rect x="1290" y="422" width="1" height="19" fill="#089981"/><rect x="1288" y="423" width="5" height="18" fill="#089981"/><rect x="1296" y="414" width="1" height="11" fill="#F23645"/><rect x="1294" y="423" width="5" height="2" fill="#F23645"/><rect x="1303" y="420" width="1" height="11" fill="#089981"/><rect x="1301" y="422" width="5" height="3" fill="#089981"/><rect x="1309" y="409" width="1" height="14" fill="#089981"/><rect x="1307" y="421" width="5" height="1" fill="#089981"/><rect x="1315" y="419" width="1" height="13" fill="#F23645"/><rect x="1313" y="421" width="5" height="9" fill="#F23645"/><rect x="1322" y="423" width="1" height="17" fill="#F23645"/><rect x="1320" y="429" width="5" height="11" fill="#F23645"/><rect x="1328" y="426" width="1" height="21" fill="#089981"/><rect x="1326" y="435" width="5" height="5" fill="#089981"/><rect x="1334" y="416" width="1" height="22" fill="#089981"/><rect x="1332" y="428" width="5" height="8" fill="#089981"/><rect x="1341" y="427" width="1" height="15" fill="#F23645"/><rect x="1339" y="429" width="5" height="5" fill="#F23645"/><rect x="1347" y="424" width="1" height="13" fill="#089981"/><rect x="1345" y="427" width="5" height="7" fill="#089981"/><rect x="1353" y="416" width="1" height="17" fill="#F23645"/><rect x="1351" y="427" width="5" height="1" fill="#F23645"/><rect x="1359" y="423" width="1" height="16" fill="#F23645"/><rect x="1357" y="427" width="5" height="9" fill="#F23645"/><rect x="1366" y="429" width="1" height="18" fill="#F23645"/><rect x="1364" y="436" width="5" height="7" fill="#F23645"/><rect x="1372" y="436" width="1" height="33" fill="#F23645"/><rect x="1370" y="442" width="5" height="27" fill="#F23645"/><rect x="1378" y="467" width="1" height="22" fill="#F23645"/><rect x="1376" y="468" width="5" height="4" fill="#F23645"/><rect x="1385" y="457" width="1" height="27" fill="#089981"/><rect x="1383" y="459" width="5" height="13" fill="#089981"/><rect x="1391" y="448" width="1" height="22" fill="#F23645"/><rect x="1389" y="459" width="5" height="6" fill="#F23645"/></g><path d="M104 464.5H1847" stroke="#F23645" stroke-width="1" stroke-dasharray="1 2" fill="none"/><g clip-path="url(#c2)"><g shape-rendering="crispEdges"><rect x="105" y="619" width="5" height="18" fill="#A5DDD3"/><rect x="112" y="621" width="5" height="16" fill="#A5DDD3"/><rect x="118" y="624" width="5" height="13" fill="#A5DDD3"/><rect x="124" y="627" width="5" height="10" fill="#A5DDD3"/><rect x="131" y="629" width="5" height="8" fill="#A5DDD3"/><rect x="137" y="631" width="5" height="6" fill="#A5DDD3"/><rect x="143" y="633" width="5" height="4" fill="#A5DDD3"/><rect x="149" y="635" width="5" height="2" fill="#A5DDD3"/><rect x="156" y="637" width="5" height="1" fill="#F7525F"/><rect x="162" y="637" width="5" height="1" fill="#F7525F"/><rect x="168" y="637" width="5" height="2" fill="#F7525F"/><rect x="175" y="637" width="5" height="2" fill="#F7525F"/><rect x="181" y="637" width="5" height="3" fill="#F7525F"/><rect x="187" y="637" width="5" height="5" fill="#F7525F"/><rect x="193" y="637" width="5" height="5" fill="#F7525F"/><rect x="200" y="637" width="5" height="5" fill="#FCCBCD"/><rect x="206" y="637" width="5" height="5" fill="#F7525F"/><rect x="212" y="637" width="5" height="5" fill="#F7525F"/><rect x="219" y="637" width="5" height="5" fill="#FCCBCD"/><rect x="225" y="637" width="5" height="5" fill="#F7525F"/><rect x="231" y="637" width="5" height="5" fill="#F7525F"/><rect x="238" y="637" width="5" height="7" fill="#F7525F"/><rect x="244" y="637" width="5" height="5" fill="#FCCBCD"/><rect x="250" y="637" width="5" height="5" fill="#FCCBCD"/><rect x="256" y="637" width="5" height="2" fill="#FCCBCD"/><rect x="263" y="637" width="5" height="1" fill="#FCCBCD"/><rect x="269" y="637" width="5" height="1" fill="#FCCBCD"/><rect x="275" y="637" width="5" height="1" fill="#FCCBCD"/><rect x="282" y="637" width="5" height="1" fill="#FCCBCD"/><rect x="288" y="635" width="5" height="2" fill="#089981"/><rect x="294" y="634" width="5" height="3" fill="#089981"/><rect x="300" y="634" width="5" height="3" fill="#089981"/><rect x="307" y="634" width="5" height="3" fill="#A5DDD3"/><rect x="313" y="634" width="5" height="3" fill="#089981"/><rect x="319" y="634" width="5" height="3" fill="#A5DDD3"/><rect x="326" y="634" width="5" height="3" fill="#A5DDD3"/><rect x="332" y="634" width="5" height="3" fill="#A5DDD3"/><rect x="338" y="637" width="5" height="1" fill="#F7525F"/><rect x="344" y="637" width="5" height="3" fill="#F7525F"/><rect x="351" y="637" width="5" height="3" fill="#F7525F"/><rect x="357" y="637" width="5" height="7" fill="#F7525F"/><rect x="363" y="637" width="5" height="7" fill="#FCCBCD"/><rect x="370" y="637" width="5" height="5" fill="#FCCBCD"/><rect x="376" y="637" width="5" height="7" fill="#F7525F"/><rect x="382" y="637" width="5" height="7" fill="#F7525F"/><rect x="389" y="637" width="5" height="7" fill="#FCCBCD"/><rect x="395" y="637" width="5" height="5" fill="#FCCBCD"/><rect x="401" y="637" width="5" height="5" fill="#FCCBCD"/><rect x="407" y="637" width="5" height="3" fill="#FCCBCD"/><rect x="414" y="637" width="5" height="2" fill="#FCCBCD"/><rect x="420" y="637" width="5" height="2" fill="#FCCBCD"/><rect x="426" y="637" width="5" height="3" fill="#F7525F"/><rect x="433" y="637" width="5" height="1" fill="#FCCBCD"/><rect x="439" y="637" width="5" height="1" fill="#FCCBCD"/><rect x="445" y="637" width="5" height="1" fill="#FCCBCD"/><rect x="451" y="637" width="5" height="1" fill="#FCCBCD"/><rect x="458" y="637" width="5" height="1" fill="#FCCBCD"/><rect x="464" y="637" width="5" height="1" fill="#FCCBCD"/><rect x="470" y="637" width="5" height="1" fill="#FCCBCD"/><rect x="477" y="637" width="5" height="1" fill="#F7525F"/><rect x="483" y="637" width="5" height="1" fill="#FCCBCD"/><rect x="489" y="637" width="5" height="1" fill="#F7525F"/><rect x="495" y="637" width="5" height="2" fill="#F7525F"/><rect x="502" y="637" width="5" height="2" fill="#F7525F"/><rect x="508" y="637" width="5" height="2" fill="#F7525F"/><rect x="514" y="637" width="5" height="2" fill="#FCCBCD"/><rect x="521" y="637" width="5" height="1" fill="#FCCBCD"/><rect x="527" y="635" width="5" height="2" fill="#089981"/><rect x="533" y="635" width="5" height="2" fill="#089981"/><rect x="540" y="637" width="5" height="1" fill="#F7525F"/><rect x="546" y="637" width="5" height="1" fill="#F7525F"/><rect x="552" y="637" width="5" height="1" fill="#F7525F"/><rect x="558" y="637" width="5" height="2" fill="#F7525F"/><rect x="565" y="637" width="5" height="1" fill="#FCCBCD"/><rect x="571" y="635" width="5" height="2" fill="#089981"/><rect x="577" y="634" width="5" height="3" fill="#089981"/><rect x="584" y="635" width="5" height="2" fill="#A5DDD3"/><rect x="590" y="637" width="5" height="2" fill="#F7525F"/><rect x="596" y="637" width="5" height="2" fill="#F7525F"/><rect x="602" y="637" width="5" height="4" fill="#F7525F"/><rect x="609" y="637" width="5" height="4" fill="#F7525F"/><rect x="615" y="637" width="5" height="4" fill="#F7525F"/><rect x="621" y="637" width="5" height="3" fill="#FCCBCD"/><rect x="628" y="637" width="5" height="2" fill="#FCCBCD"/><rect x="634" y="637" width="5" height="1" fill="#FCCBCD"/><rect x="640" y="636" width="5" height="1" fill="#089981"/><rect x="646" y="635" width="5" height="2" fill="#089981"/><rect x="653" y="634" width="5" height="3" fill="#089981"/><rect x="659" y="634" width="5" height="3" fill="#089981"/><rect x="665" y="634" width="5" height="3" fill="#A5DDD3"/><rect x="672" y="635" width="5" height="2" fill="#A5DDD3"/><rect x="678" y="635" width="5" height="2" fill="#A5DDD3"/><rect x="684" y="635" width="5" height="2" fill="#A5DDD3"/><rect x="691" y="637" width="5" height="1" fill="#F7525F"/><rect x="697" y="635" width="5" height="2" fill="#089981"/><rect x="703" y="635" width="5" height="2" fill="#089981"/><rect x="709" y="635" width="5" height="2" fill="#089981"/><rect x="716" y="634" width="5" height="3" fill="#089981"/><rect x="722" y="634" width="5" height="3" fill="#A5DDD3"/><rect x="728" y="633" width="5" height="4" fill="#089981"/><rect x="735" y="634" width="5" height="3" fill="#A5DDD3"/><rect x="741" y="634" width="5" height="3" fill="#A5DDD3"/><rect x="747" y="635" width="5" height="2" fill="#A5DDD3"/><rect x="753" y="637" width="5" height="2" fill="#F7525F"/><rect x="760" y="637" width="5" height="1" fill="#FCCBCD"/><rect x="766" y="637" width="5" height="1" fill="#FCCBCD"/><rect x="772" y="635" width="5" height="2" fill="#089981"/><rect x="779" y="635" width="5" height="2" fill="#089981"/><rect x="785" y="635" width="5" height="2" fill="#089981"/><rect x="791" y="635" width="5" height="2" fill="#A5DDD3"/><rect x="797" y="637" width="5" height="1" fill="#F7525F"/><rect x="804" y="637" width="5" height="1" fill="#F7525F"/><rect x="810" y="635" width="5" height="2" fill="#089981"/><rect x="816" y="634" width="5" height="3" fill="#089981"/><rect x="823" y="633" width="5" height="4" fill="#089981"/><rect x="829" y="632" width="5" height="5" fill="#089981"/><rect x="835" y="631" width="5" height="6" fill="#089981"/><rect x="842" y="633" width="5" height="4" fill="#A5DDD3"/><rect x="848" y="633" width="5" height="4" fill="#A5DDD3"/><rect x="854" y="634" width="5" height="3" fill="#A5DDD3"/><rect x="860" y="635" width="5" height="2" fill="#A5DDD3"/><rect x="867" y="635" width="5" height="2" fill="#A5DDD3"/><rect x="873" y="635" width="5" height="2" fill="#A5DDD3"/><rect x="879" y="636" width="5" height="1" fill="#A5DDD3"/><rect x="886" y="634" width="5" height="3" fill="#089981"/><rect x="892" y="637" width="5" height="2" fill="#F7525F"/><rect x="898" y="637" width="5" height="7" fill="#F7525F"/><rect x="904" y="637" width="5" height="12" fill="#F7525F"/><rect x="911" y="637" width="5" height="14" fill="#F7525F"/><rect x="917" y="637" width="5" height="14" fill="#FCCBCD"/><rect x="923" y="637" width="5" height="13" fill="#FCCBCD"/><rect x="930" y="637" width="5" height="11" fill="#FCCBCD"/><rect x="936" y="637" width="5" height="8" fill="#FCCBCD"/><rect x="942" y="637" width="5" height="6" fill="#FCCBCD"/><rect x="948" y="637" width="5" height="4" fill="#FCCBCD"/><rect x="955" y="637" width="5" height="2" fill="#FCCBCD"/><rect x="961" y="637" width="5" height="2" fill="#FCCBCD"/><rect x="967" y="635" width="5" height="2" fill="#089981"/><rect x="974" y="635" width="5" height="2" fill="#089981"/><rect x="980" y="634" width="5" height="3" fill="#089981"/><rect x="986" y="634" width="5" height="3" fill="#089981"/><rect x="993" y="634" width="5" height="3" fill="#089981"/><rect x="999" y="633" width="5" height="4" fill="#089981"/><rect x="1005" y="633" width="5" height="4" fill="#089981"/><rect x="1011" y="632" width="5" height="5" fill="#089981"/><rect x="1018" y="632" width="5" height="5" fill="#089981"/><rect x="1024" y="632" width="5" height="5" fill="#089981"/><rect x="1030" y="632" width="5" height="5" fill="#A5DDD3"/><rect x="1037" y="632" width="5" height="5" fill="#089981"/><rect x="1043" y="632" width="5" height="5" fill="#A5DDD3"/><rect x="1049" y="632" width="5" height="5" fill="#089981"/><rect x="1055" y="632" width="5" height="5" fill="#A5DDD3"/><rect x="1062" y="632" width="5" height="5" fill="#A5DDD3"/><rect x="1068" y="633" width="5" height="4" fill="#A5DDD3"/><rect x="1074" y="633" width="5" height="4" fill="#A5DDD3"/><rect x="1081" y="633" width="5" height="4" fill="#A5DDD3"/><rect x="1087" y="634" width="5" height="3" fill="#A5DDD3"/><rect x="1093" y="634" width="5" height="3" fill="#A5DDD3"/><rect x="1099" y="635" width="5" height="2" fill="#A5DDD3"/><rect x="1106" y="635" width="5" height="2" fill="#A5DDD3"/><rect x="1112" y="635" width="5" height="2" fill="#089981"/><rect x="1118" y="635" width="5" height="2" fill="#A5DDD3"/><rect x="1125" y="635" width="5" height="2" fill="#089981"/><rect x="1131" y="635" width="5" height="2" fill="#A5DDD3"/><rect x="1137" y="635" width="5" height="2" fill="#089981"/><rect x="1143" y="635" width="5" height="2" fill="#A5DDD3"/><rect x="1150" y="635" width="5" height="2" fill="#089981"/><rect x="1156" y="635" width="5" height="2" fill="#089981"/><rect x="1162" y="635" width="5" height="2" fill="#A5DDD3"/><rect x="1169" y="635" width="5" height="2" fill="#089981"/><rect x="1175" y="637" width="5" height="2" fill="#F7525F"/><rect x="1181" y="637" width="5" height="3" fill="#F7525F"/><rect x="1188" y="637" width="5" height="3" fill="#F7525F"/><rect x="1194" y="637" width="5" height="4" fill="#F7525F"/><rect x="1200" y="637" width="5" height="3" fill="#FCCBCD"/><rect x="1206" y="637" width="5" height="1" fill="#FCCBCD"/><rect x="1213" y="637" width="5" height="1" fill="#FCCBCD"/><rect x="1219" y="635" width="5" height="2" fill="#089981"/><rect x="1225" y="634" width="5" height="3" fill="#089981"/><rect x="1232" y="633" width="5" height="4" fill="#089981"/><rect x="1238" y="633" width="5" height="4" fill="#089981"/><rect x="1244" y="632" width="5" height="5" fill="#089981"/><rect x="1250" y="631" width="5" height="6" fill="#089981"/><rect x="1257" y="631" width="5" height="6" fill="#089981"/><rect x="1263" y="631" width="5" height="6" fill="#A5DDD3"/><rect x="1269" y="632" width="5" height="5" fill="#A5DDD3"/><rect x="1276" y="633" width="5" height="4" fill="#A5DDD3"/><rect x="1282" y="634" width="5" height="3" fill="#A5DDD3"/><rect x="1288" y="634" width="5" height="3" fill="#A5DDD3"/><rect x="1294" y="634" width="5" height="3" fill="#A5DDD3"/><rect x="1301" y="635" width="5" height="2" fill="#A5DDD3"/><rect x="1307" y="635" width="5" height="2" fill="#A5DDD3"/><rect x="1313" y="635" width="5" height="2" fill="#A5DDD3"/><rect x="1320" y="635" width="5" height="2" fill="#A5DDD3"/><rect x="1326" y="636" width="5" height="1" fill="#A5DDD3"/><rect x="1332" y="636" width="5" height="1" fill="#A5DDD3"/><rect x="1339" y="636" width="5" height="1" fill="#A5DDD3"/><rect x="1345" y="635" width="5" height="2" fill="#089981"/><rect x="1351" y="635" width="5" height="2" fill="#089981"/><rect x="1357" y="636" width="5" height="1" fill="#A5DDD3"/><rect x="1364" y="636" width="5" height="1" fill="#A5DDD3"/><rect x="1370" y="637" width="5" height="2" fill="#F7525F"/><rect x="1376" y="637" width="5" height="2" fill="#F7525F"/><rect x="1383" y="637" width="5" height="3" fill="#F7525F"/><rect x="1389" y="637" width="5" height="2" fill="#FCCBCD"/></g><polyline points="104.0,600.6 116.7,598.0 133.4,599.2 158.4,603.7 183.5,610.0 203.5,614.3 216.9,618.4 241.9,625.1 250.3,625.4 260.3,623.4 283.6,621.4 300.3,618.9 333.7,618.1 340.4,620.1 358.8,629.3 373.8,632.3 390.5,639.0 400.0,639.0 420.0,638.1 433.4,640.1 453.4,638.9 486.8,638.9 510.2,641.3 535.2,639.6 561.9,641.8 578.6,638.7 587.0,639.2 617.0,647.9 637.0,645.1 660.4,642.3 687.1,643.1 712.2,641.4 730.5,639.6 740.0,639.4 756.7,642.3 781.7,640.1 806.8,640.6 823.5,637.6 840.2,632.6 853.5,631.7 866.9,633.4 888.6,633.9 895.3,637.6 903.6,646.8 913.6,657.6 923.6,662.1 932.0,664.0 948.7,662.1 973.7,657.6 998.8,654.3 1023.8,649.3 1048.8,645.9 1060.0,646.0 1080.9,643.7 1112.2,644.7 1139.3,642.6 1170.6,642.6 1195.7,648.5 1206.1,648.0 1227.0,644.7 1247.9,639.7 1260.4,636.3 1289.6,637.0 1331.4,637.0 1362.7,637.0 1377.3,640.1 1391.9,640.7" stroke="#2196F3" stroke-width="1.1" fill="none" stroke-linejoin="round"/><polyline points="104.0,618.1 116.7,610.0 133.4,604.7 150.0,603.0 175.1,604.2 203.5,610.0 233.6,617.6 258.6,621.4 283.6,621.7 317.0,619.7 338.7,618.7 353.8,620.9 375.5,626.7 400.5,633.4 420.0,635.5 436.7,637.6 470.1,638.7 503.5,639.7 536.9,639.7 561.9,640.9 587.0,639.7 603.6,641.8 623.7,644.8 653.7,644.3 687.1,643.4 712.2,642.6 740.0,641.0 773.4,640.9 806.8,640.1 831.8,637.6 856.9,634.7 890.3,634.2 898.6,635.9 915.3,644.3 932.0,652.6 948.7,657.1 962.0,658.4 982.1,657.6 998.8,656.8 1023.8,653.1 1060.0,648.5 1080.9,646.4 1112.2,644.7 1143.5,643.7 1170.6,643.7 1195.7,645.9 1216.6,646.4 1237.5,644.3 1258.3,641.1 1279.2,638.4 1310.5,637.2 1352.3,637.0 1373.2,638.0 1391.9,639.1" stroke="#FF6D00" stroke-width="1.1" fill="none" stroke-linejoin="round"/></g><line x1="907" y1="666.7" x2="1448" y2="638.8" stroke="#3D55F2" stroke-width="2" stroke-linecap="round"/><g clip-path="url(#c3)" fill="none" stroke-linejoin="round"><polyline points="104.7,703.8 118.8,705.7 130.0,708.5 139.4,715.1 150.7,748.9 158.2,759.2 164.8,753.6 170.4,748.5 177.0,747.6 182.6,752.6 189.2,758.3 195.8,754.5 202.3,740.4 208.0,738.5 214.6,744.2 221.1,752.3 227.7,749.8 233.3,749.8 239.0,755.4 246.5,754.9 252.1,747.0 257.7,725.4 265.3,711.3 270.9,706.6 277.5,708.9 283.1,708.5 289.7,703.8 296.2,701.5 301.9,698.2 310.3,699.1 321.6,699.1 328.2,697.8 333.8,697.8 340.4,718.8 347.0,739.5 353.1,755.4 359.2,755.4 364.8,747.4 371.4,746.1 377.9,742.3 384.5,748.5 391.1,752.3 396.7,748.9 403.3,742.3 408.9,738.5 415.5,738.5 422.1,735.7 427.7,735.4 434.3,731.0 440.8,724.5 447.4,714.7 454.0,708.5 460.0,711.0 465.6,714.4 472.2,714.2 478.8,719.4 485.4,719.1 491.0,733.5 497.6,742.0 503.6,750.0 509.8,752.9 516.0,743.8 522.9,736.0 528.5,718.5 534.7,706.7 541.7,716.6 547.3,735.4 553.9,756.1 560.5,758.5 566.7,748.5 572.7,726.9 578.9,713.2 585.8,716.1 591.5,736.3 598.0,749.9 604.6,759.4 616.8,760.2 623.4,750.4 630.0,740.1 636.0,729.2 642.2,727.3 647.8,727.5 654.4,726.4 660.6,718.9 666.6,718.1 673.7,716.1 679.7,723.2 686.3,725.1 692.9,731.3 698.5,728.5 705.1,729.8 711.6,717.2 718.2,709.1 723.8,704.8 730.0,704.8 737.0,715.1 743.2,716.2 749.2,736.3 756.3,747.2 762.3,746.1 768.9,731.6 775.1,717.6 781.1,715.7 786.8,710.0 792.4,710.4 799.9,719.8 806.1,728.3 812.7,720.4 820.0,705.4 824.7,697.8 831.3,697.8 837.8,701.0 844.4,707.2 855.7,716.6 868.8,731.6 874.8,734.5 881.0,732.6 888.0,729.2 894.2,738.8 900.8,748.2 906.8,760.2 913.3,760.2 919.5,754.6 926.1,750.4 932.1,744.4 938.3,740.5 944.5,735.0 957.1,729.8 962.7,729.2 969.7,725.6 975.9,719.8 982.4,712.9 989.0,707.6 994.6,708.2 1001.2,704.4 1006.9,705.0 1014.0,701.6 1020.0,704.4 1026.6,704.0 1032.2,709.7 1038.8,707.6 1045.0,713.2 1051.0,707.6 1057.6,710.0 1064.1,709.7 1070.7,712.9 1076.9,715.7 1082.9,727.5 1089.5,745.7 1096.1,759.8 1101.7,760.4 1108.3,751.9 1113.9,734.8 1121.0,722.6 1127.0,718.5 1133.1,727.3 1139.8,723.6 1146.2,733.1 1152.4,730.7 1159.0,732.2 1165.2,725.1 1170.8,717.0 1176.6,730.7 1184.1,739.2 1190.3,759.8 1196.3,759.8 1202.9,746.7 1208.5,727.9 1215.1,710.0 1221.1,703.8 1227.3,703.5 1233.8,697.8 1258.3,697.8 1265.8,702.2 1278.0,715.7 1284.0,726.9 1296.8,732.2 1302.8,729.4 1309.9,730.7 1315.5,735.8 1327.7,753.2 1334.3,751.0 1340.0,747.6 1346.5,735.0 1354.0,725.4 1360.2,723.6 1366.2,738.2 1372.8,753.8 1379.0,760.4 1385.0,752.9 1390.7,746.7" stroke="#2196F3" stroke-width="1.1"/><polyline points="104.7,705.3 118.8,704.4 130.0,706.6 139.4,710.4 146.0,719.8 158.2,747.0 164.8,754.1 170.4,754.1 177.0,749.8 182.6,750.4 189.2,753.6 195.8,755.4 202.3,751.1 208.0,744.2 213.6,740.4 221.1,744.2 227.7,747.9 233.3,749.8 239.0,751.7 246.5,753.2 252.1,752.1 257.7,742.3 265.3,726.3 270.9,715.1 277.5,708.9 283.1,708.5 289.7,706.6 296.2,704.4 301.9,701.0 310.3,699.1 321.6,699.5 333.8,698.2 340.4,704.7 347.0,718.8 353.1,735.7 359.2,749.8 364.8,753.2 371.4,750.4 377.9,745.1 384.5,745.7 391.1,747.9 396.7,749.8 403.3,747.9 408.9,743.2 415.5,740.0 422.1,737.6 427.7,736.7 434.3,733.8 440.8,729.7 447.4,721.6 454.0,715.1 460.0,710.5 465.6,710.4 472.2,712.5 478.8,715.7 485.4,717.6 491.0,724.1 497.6,731.3 503.6,741.6 509.8,748.2 516.0,748.9 522.9,744.4 528.5,732.6 534.7,720.4 541.7,713.8 547.9,719.8 553.9,735.4 560.5,750.0 567.0,754.6 572.7,744.4 578.9,729.8 585.8,718.9 592.0,722.3 598.0,735.4 604.6,748.5 611.2,756.6 616.8,760.2 623.4,757.0 630.0,750.8 636.0,740.1 642.2,732.6 648.7,728.5 655.3,726.9 660.9,724.5 666.6,721.7 674.1,717.6 679.7,718.9 686.3,721.7 692.9,726.4 698.5,728.3 705.1,729.8 711.6,725.6 718.2,719.1 723.8,711.0 730.4,706.9 737.0,708.7 743.2,712.5 749.2,722.3 756.3,733.5 762.3,743.3 768.0,742.0 775.1,732.0 781.1,722.3 787.1,714.7 793.3,712.3 799.9,713.8 806.1,719.4 812.1,723.2 820.0,717.6 825.6,708.2 831.3,701.0 836.9,698.4 843.5,701.0 850.0,705.4 862.3,716.6 874.8,729.8 881.0,732.2 888.0,731.6 894.2,733.5 900.8,738.8 906.8,748.5 913.3,756.1 919.0,758.5 926.1,755.7 932.1,751.0 944.5,740.1 957.1,732.6 969.7,727.9 975.9,724.5 989.0,713.8 1001.2,706.9 1006.9,705.9 1014.0,703.5 1020.0,703.8 1026.6,703.5 1032.2,705.9 1038.8,707.2 1045.0,710.4 1051.0,709.5 1057.6,710.4 1064.1,709.1 1070.7,711.0 1076.9,712.9 1082.9,718.5 1089.5,729.4 1096.1,743.3 1101.7,755.1 1107.3,757.4 1113.9,748.2 1120.5,736.3 1127.0,725.1 1133.1,722.8 1139.8,722.8 1146.2,727.9 1152.4,729.2 1159.0,732.0 1165.2,729.4 1170.8,725.1 1176.6,724.5 1184.1,729.2 1190.3,743.8 1196.3,752.9 1202.9,755.5 1208.5,744.8 1215.1,727.9 1221.1,713.8 1227.3,706.3 1233.8,702.0 1245.1,698.2 1258.3,697.8 1265.8,699.3 1272.3,703.5 1278.0,710.0 1284.0,718.5 1296.8,729.8 1302.8,730.7 1309.9,730.7 1315.5,732.6 1321.7,737.8 1327.7,744.8 1334.3,749.5 1340.5,750.4 1346.5,744.8 1354.0,735.8 1360.2,727.9 1366.2,729.2 1372.8,739.2 1379.0,751.4 1385.0,755.7 1390.7,753.6" stroke="#FF6D00" stroke-width="1.1"/></g><circle cx="1385.4" cy="750.4" r="18" fill="rgba(242,54,69,0.2)" stroke="#F23645" stroke-width="1"/><text x="1858.5" y="126" font-size="12" fill="#131722" font-weight="normal" text-anchor="start" letter-spacing="-0.3">1960.00</text><text x="1858.5" y="172" font-size="12" fill="#131722" font-weight="normal" text-anchor="start" letter-spacing="-0.3">1956.00</text><text x="1858.5" y="217" font-size="12" fill="#131722" font-weight="normal" text-anchor="start" letter-spacing="-0.3">1952.00</text><text x="1858.5" y="263" font-size="12" fill="#131722" font-weight="normal" text-anchor="start" letter-spacing="-0.3">1948.00</text><text x="1858.5" y="309" font-size="12" fill="#131722" font-weight="normal" text-anchor="start" letter-spacing="-0.3">1944.00</text><text x="1858.5" y="355" font-size="12" fill="#131722" font-weight="normal" text-anchor="start" letter-spacing="-0.3">1940.00</text><text x="1858.5" y="401" font-size="12" fill="#131722" font-weight="normal" text-anchor="start" letter-spacing="-0.3">1936.00</text><text x="1858.5" y="447" font-size="12" fill="#131722" font-weight="normal" text-anchor="start" letter-spacing="-0.3">1932.00</text><text x="1858.5" y="539" font-size="12" fill="#131722" font-weight="normal" text-anchor="start" letter-spacing="-0.3">1924.00</text><text x="1858.5" y="608" font-size="12" fill="#131722" font-weight="normal" text-anchor="start" >5.00</text><text x="1858.5" y="702" font-size="12" fill="#131722" font-weight="normal" text-anchor="start" >100.00</text><text x="1858.5" y="734" font-size="12" fill="#131722" font-weight="normal" text-anchor="start" >50.00</text><text x="1857.5" y="796" font-size="12" fill="#131722" font-weight="normal" text-anchor="start" >−50.00</text><rect x="1848" y="372" width="59" height="17" rx="2" fill="#673AB7"/><text x="1858.5" y="384.8" font-size="11.7" fill="#fff" font-weight="bold" text-anchor="start" >1937.46</text><rect x="1848" y="422" width="59" height="17" rx="2" fill="#00BCD4"/><text x="1858.5" y="434.8" font-size="11.7" fill="#131722" font-weight="bold" text-anchor="start" >1933.10</text><rect x="1848" y="405" width="59" height="17" rx="2" fill="#3D55F2"/><text x="1858.5" y="417.8" font-size="11.7" fill="#fff" font-weight="bold" text-anchor="start" >1934.18</text><rect x="1848" y="456" width="59" height="17" rx="2" fill="#F23645"/><text x="1858.5" y="468.8" font-size="11.7" fill="#fff" font-weight="bold" text-anchor="start" >1930.12</text><rect x="1848" y="484" width="59" height="17" rx="2" fill="#3D55F2"/><text x="1858.5" y="496.8" font-size="11.7" fill="#fff" font-weight="bold" text-anchor="start" >1927.68</text><rect x="1848" y="573" width="59" height="16" rx="2" fill="#0AA58A"/><text x="1858.5" y="585.8" font-size="11.7" fill="#fff" font-weight="bold" text-anchor="start" >256.28K</text><g clip-path="url(#cax)"><rect x="1848" y="630" width="46" height="17" rx="2" fill="#FCCBCD"/><text x="1858.5" y="642.8" font-size="12" fill="#131722" font-weight="normal" text-anchor="start" >−0.32</text><rect x="1848" y="647" width="46" height="17" rx="2" fill="#FF6D00"/><text x="1858.5" y="659.8" font-size="11.7" fill="#fff" font-weight="bold" text-anchor="start" >−0.54</text><rect x="1848" y="664" width="46" height="17" rx="2" fill="#2196F3"/><text x="1858.5" y="676.8" font-size="11.7" fill="#fff" font-weight="bold" text-anchor="start" >−0.86</text></g><rect x="1848" y="739" width="46" height="17" rx="2" fill="#2196F3"/><text x="1858.5" y="751.8" font-size="11.7" fill="#fff" font-weight="bold" text-anchor="start" >21.66</text><rect x="1848" y="756" width="46" height="17" rx="2" fill="#FF6D00"/><text x="1858.5" y="768.8" font-size="11.7" fill="#fff" font-weight="bold" text-anchor="start" >11.33</text><text x="158.232" y="818" font-size="11.7" fill="#131722" font-weight="bold" text-anchor="middle" >16</text><text x="309.228" y="818" font-size="12" fill="#131722" font-weight="normal" text-anchor="middle" stroke="#131722" stroke-width="0.25">12:00</text><text x="447.64099999999996" y="818" font-size="11.7" fill="#131722" font-weight="bold" text-anchor="middle" >19</text><text x="598.6370000000001" y="818" font-size="12" fill="#131722" font-weight="normal" text-anchor="middle" stroke="#131722" stroke-width="0.25">12:00</text><text x="711.884" y="818" font-size="11.7" fill="#131722" font-weight="bold" text-anchor="middle" >20</text><text x="862.88" y="818" font-size="12" fill="#131722" font-weight="normal" text-anchor="middle" stroke="#131722" stroke-width="0.25">12:00</text><text x="1001.293" y="818" font-size="11.7" fill="#131722" font-weight="bold" text-anchor="middle" >21</text><text x="1152.2890000000002" y="818" font-size="12" fill="#131722" font-weight="normal" text-anchor="middle" stroke="#131722" stroke-width="0.25">12:00</text><text x="1290.702" y="818" font-size="11.7" fill="#131722" font-weight="bold" text-anchor="middle" >22</text><text x="1441.698" y="818" font-size="12" fill="#131722" font-weight="normal" text-anchor="middle" stroke="#131722" stroke-width="0.25">12:00</text><text x="1592.6940000000002" y="818" font-size="11.7" fill="#131722" font-weight="bold" text-anchor="middle" >23</text><text x="1743.69" y="818" font-size="12" fill="#131722" font-weight="normal" text-anchor="middle" stroke="#131722" stroke-width="0.25">12:00</text></svg><svg class="chart" width="1917" height="868" viewBox="0 0 1917 868"><g transform="translate(22,27)" fill="none" stroke="#131722" stroke-width="1.6" stroke-linecap="round" stroke-linejoin="round" ><path d="M-9 0H6.5M1.5 -5L6.5 0L1.5 5M10.2 -6V6"/></g><g fill="#050505" stroke="none"><path d="M7.9 57.1H12.9L12.5 71.4L21.6 57.1H25.8L16.1 76H7.9Z"/><path d="M21.6 57.1H35.9V61.3H27.6L27 71.6H35.9V76H23L24.2 63.3L25 58Z"/></g><g transform="translate(22.4,105.6)"><circle r="11.5" fill="#fff" stroke="#9A9A9A" stroke-width="1.3"/><circle cy="-4.1" r="4.6" fill="#9A9A9A"/><path d="M-8.2 7.6C-6.5 3.2 -3 2.2 0 2.2C3 2.2 6.5 3.2 8.2 7.6C6 10.3 3 11.3 0 11.3C-3 11.3 -6 10.3 -8.2 7.6Z" fill="#9A9A9A"/></g><g transform="translate(21,157.4)" fill="none" stroke="#4A4E5A" stroke-width="1.4" stroke-linecap="round" stroke-linejoin="round" ><rect x="-6.2" y="-6.2" width="4.6" height="4.6" rx="1"/><rect x="1.6" y="-6.2" width="4.6" height="4.6" rx="1"/><rect x="-6.2" y="1.6" width="4.6" height="4.6" rx="1"/><rect x="1.6" y="1.6" width="4.6" height="4.6" rx="1"/></g><g transform="translate(21,204.4)" fill="none" stroke="#4A4E5A" stroke-width="1.4" stroke-linecap="round" stroke-linejoin="round" ><path d="M-7 -2.5L0 -7L7 -2.5Z"/><path d="M-5 -0.5V4.5M-1.7 -0.5V4.5M1.7 -0.5V4.5M5 -0.5V4.5M-6.5 5H6.5M-7.5 7.5H7.5"/></g><g transform="translate(21,252)" fill="none" stroke="#4A4E5A" stroke-width="1.4" stroke-linecap="round" stroke-linejoin="round" ><path d="M0 -7.2L2.2 -2.5L7.3 -1.9L3.5 1.6L4.5 6.7L0 4.1L-4.5 6.7L-3.5 1.6L-7.3 -1.9L-2.2 -2.5Z"/></g><g transform="translate(21,299)" fill="none" stroke="#4A4E5A" stroke-width="1.4" stroke-linecap="round" stroke-linejoin="round" ><circle cy="-2" r="5"/><path d="M-6.5 3.5H6.5V6.5H-6.5Z"/></g><text x="21" y="300" font-size="7" font-weight="bold" fill="#4A4E5A" text-anchor="middle" font-family="Liberation Sans, sans-serif">$</text><g transform="translate(21,346)" fill="none" stroke="#4A4E5A" stroke-width="1.4" stroke-linecap="round" stroke-linejoin="round" ><path d="M-1.5 -5.5A6.5 6.5 0 1 0 5.5 2.5L-1.5 1Z"/><path d="M1.5 -7.5A6 6 0 0 1 7.5 -1.5H1.5Z"/><path d="M2.5 2L7 2L4.7 5Z" fill="#4A4E5A"/></g><g transform="translate(21,392)" fill="none" stroke="#4A4E5A" stroke-width="1.4" stroke-linecap="round" stroke-linejoin="round" ><path d="M-6.3 -2A6.8 6.8 0 1 1 -5 4.8"/><path d="M-8 -5.5L-6.3 -1.6L-2.6 -3"/><path d="M0 -3V0.5L2.5 2.5"/></g><g transform="translate(21,439)" fill="none" stroke="#4A4E5A" stroke-width="1.4" stroke-linecap="round" stroke-linejoin="round" ><path d="M-5.5 -6.5H2L5.5 -3V6.5A1 1 0 0 1 4.5 7.5H-4.5A1 1 0 0 1 -5.5 6.5Z"/></g><text x="21.3" y="444.8" font-size="9.5" font-weight="bold" fill="#4A4E5A" text-anchor="middle" font-family="Liberation Sans, sans-serif">s</text><rect x="18" y="435.6" width="3" height="1" fill="#4A4E5A"/><g transform="translate(21,486)" fill="none" stroke="#4A4E5A" stroke-width="1.4" stroke-linecap="round" stroke-linejoin="round" ><path d="M-6.5 -4.5V4.5A1.5 1.5 0 0 0 -5 6H5A1.5 1.5 0 0 0 6.5 4.5V-2.5A1.5 1.5 0 0 0 5 -4H-5A1.5 1.5 0 0 1 -6.5 -5.5A1.5 1.5 0 0 1 -5 -6.5H5.5"/><circle cx="3.6" cy="1" r="0.7" fill="#4A4E5A"/></g><g transform="translate(21,533)" fill="none" stroke="#4A4E5A" stroke-width="1.4" stroke-linecap="round" stroke-linejoin="round" ><circle cy="-4" r="3.2"/><path d="M-6 6.5C-6 2.5 -3 1 0 1C3 1 6 2.5 6 6.5Z"/></g><g transform="translate(21,580)" fill="none" stroke="#4A4E5A" stroke-width="1.4" stroke-linecap="round" stroke-linejoin="round" ><path d="M4.97 -1.32L6.53 -0.99L6.53 0.99L4.97 1.32L4.45 2.58L5.31 3.92L3.92 5.31L2.58 4.45L1.32 4.97L0.99 6.53L-0.99 6.53L-1.32 4.97L-2.58 4.45L-3.92 5.31L-5.31 3.92L-4.45 2.58L-4.97 1.32L-6.53 0.99L-6.53 -0.99L-4.97 -1.32L-4.45 -2.58L-5.31 -3.92L-3.92 -5.31L-2.58 -4.45L-1.32 -4.97L-0.99 -6.53L0.99 -6.53L1.32 -4.97L2.58 -4.45L3.92 -5.31L5.31 -3.92L4.45 -2.58Z"/><circle r="2.2"/></g><g transform="translate(21,627)" fill="none" stroke="#4A4E5A" stroke-width="1.4" stroke-linecap="round" stroke-linejoin="round" ><path d="M-4 -6.5H4V-2A4 4 0 0 1 -4 -2Z"/><path d="M-4 -5H-7.2C-7.2 -2 -6 -0.5 -3.6 -0.3M4 -5H7.2C7.2 -2 6 -0.5 3.6 -0.3M0 2V6M-3.5 6.5H3.5"/></g><g transform="translate(22,738)" fill="none" stroke="#4A4E5A" stroke-width="1.4" stroke-linecap="round" stroke-linejoin="round" ><path d="M-3 -6H-6.5V6H-3M-1 0H8M4.5 -3.5L8 0L4.5 3.5"/></g><g transform="translate(74.5,134.5)" fill="none" stroke="#2962FF" stroke-width="1" stroke-linecap="round" stroke-linejoin="round" shape-rendering="crispEdges"><path d="M-12 0H-5M5 0H12M0 -11V-5M0 5V11"/></g><g transform="translate(74.4,170.5)" fill="none" stroke="#131722" stroke-width="1" stroke-linecap="round" stroke-linejoin="round" ><path d="M-10.3 0H-2.3M2.3 0H10.6"/><circle r="2.2"/></g><g transform="translate(74,205.4)" fill="none" stroke="#131722" stroke-width="1" stroke-linecap="round" stroke-linejoin="round" ><path d="M-11 -9H11M-11 -3H8.5M-11 3H11M-8.5 9H11"/><circle cx="10.6" cy="-3" r="2.1" fill="#fff"/><circle cx="-10.5" cy="9" r="2.1" fill="#fff"/></g><g transform="translate(73.8,241.8)" fill="none" stroke="#131722" stroke-width="1" stroke-linecap="round" stroke-linejoin="round" ><circle r="10"/><circle r="1.9"/><circle cx="10.5" cy="0" r="2.1" fill="#fff"/></g><g transform="translate(74,278)" fill="none" stroke="#131722" stroke-width="1" stroke-linecap="round" stroke-linejoin="round" ><path d="M-6.5 -6V-8.5H6.5V-6M0 -8.5V8.5M-2.8 8.5H2.8"/></g><g transform="translate(74,313)" fill="none" stroke="#131722" stroke-width="1" stroke-linecap="round" stroke-linejoin="round" ><path d="M-8.5 9.5L-5.5 -8.5L10 6L7 -8L-2 -1Z M-8.5 9.5L-2 -1"/><circle cx="-8.5" cy="9.5" r="2" fill="#fff"/><circle cx="-5.5" cy="-8.5" r="2" fill="#fff"/><circle cx="10" cy="6" r="2" fill="#fff"/><circle cx="7" cy="-8" r="2" fill="#fff"/><circle cx="-2" cy="-1" r="2" fill="#fff"/></g><g transform="translate(74,350)" fill="none" stroke="#131722" stroke-width="1" stroke-linecap="round" stroke-linejoin="round" ><path d="M-7.5 -8H10M-7.5 2.5H7M-7.5 8.5H10"/><path d="M-6 0L7 -5.5" stroke-dasharray="1 2"/><circle cx="-9.8" cy="-8" r="2.2" fill="#fff"/><circle cx="-9.8" cy="2.5" r="2.2" fill="#fff"/><circle cx="9.2" cy="2.5" r="2.2" fill="#fff"/><circle cx="-9.8" cy="8.5" r="2.2" fill="#fff"/></g><g transform="translate(74.2,386)" fill="none" stroke="#131722" stroke-width="1.3" stroke-linecap="round" stroke-linejoin="round" ><path d="M0 9.6C-3 7 -11.6 2 -11.6 -4.4C-11.6 -8 -9 -10 -6 -10C-3.5 -10 -1 -8.6 0 -6.4C1 -8.6 3.5 -10 6 -10C9 -10 11.6 -8 11.6 -4.4C11.6 2 3 7 0 9.6Z"/></g><g transform="translate(74.2,434.8)" fill="none" stroke="#131722" stroke-width="1" stroke-linecap="round" stroke-linejoin="round" ><g transform="rotate(-42)"><rect x="-14" y="-3.6" width="28" height="7.2" rx="0.8"/><path d="M-10.5 -3.6V-0.6M-7 -3.6V-1.6M-3.5 -3.6V-0.6M0 -3.6V-1.6M3.5 -3.6V-0.6M7 -3.6V-1.6M10.5 -3.6V-0.6"/></g></g><g transform="translate(72.5,469)" fill="none" stroke="#131722" stroke-width="1" stroke-linecap="round" stroke-linejoin="round" ><circle r="7.7"/><path d="M-3.5 0H3.5M0 -3.5V3.5"/><path d="M5.8 5.8L9.6 9.6" stroke-width="1.6"/></g><g transform="translate(74,519.8)" fill="none" stroke="#131722" stroke-width="1.1" stroke-linecap="round" stroke-linejoin="round" ><path d="M-7.6 8.8V-1.6A7.6 7.6 0 0 1 7.6 -1.6V8.8H3V-1.6A3 3 0 0 0 -3 -1.6V8.8Z"/><path d="M-7.6 4.8H-3M3 4.8H7.6"/></g><g transform="translate(71,553)" fill="none" stroke="#131722" stroke-width="1" stroke-linecap="round" stroke-linejoin="round" ><path d="M-7.8 7.6L-6.6 2.6L3.4 -7.4A1.8 1.8 0 0 1 6 -7.4L7.4 -6A1.8 1.8 0 0 1 7.4 -3.4L-2.2 6.2L-7.8 7.6Z"/><path d="M-4.6 3.4L5 -6.2M-3 5L6.6 -4.6M1.6 -5.6L5.6 -1.6"/><rect x="5.2" y="5.6" width="8" height="6.6" rx="1" fill="#fff"/><path d="M7 5.6V3.6A2.2 2.2 0 0 1 11.4 3.2"/><path d="M9.2 8.2V9.6"/></g><g transform="translate(74.2,593)" fill="none" stroke="#131722" stroke-width="1.2" stroke-linecap="round" stroke-linejoin="round" ><rect x="-7.7" y="-0.8" width="15.4" height="9.3" rx="1.5"/><path d="M4.4 -0.8V-5A4.5 4.5 0 0 0 -4.6 -5V-4"/><path d="M0 2.6V5.2" stroke-width="1.6"/></g><g transform="translate(73,624.2)" fill="none" stroke="#131722" stroke-width="1" stroke-linecap="round" stroke-linejoin="round" ><path d="M-9.5 0C-5.5 -9.2 5.5 -9.2 9.5 0C5.5 9.2 -5.5 9.2 -9.5 0Z"/><circle r="3.3"/><path d="M1.8 13.6C2.6 11.4 5 10.6 6.6 11.6C5.8 13.8 3.6 14.4 1.8 13.6ZM6.6 11.6L8.2 9.6L9.4 10.8L11.6 8.6"/></g><g transform="translate(74,678)" fill="none" stroke="#131722" stroke-width="1.1" stroke-linecap="round" stroke-linejoin="round" ><path d="M-8.6 -6.4H8.6M-3 -6.4V-8.8H3V-6.4M-6.6 -6.4V7A1.2 1.2 0 0 0 -5.4 8.2H5.4A1.2 1.2 0 0 0 6.6 7V-6.4M-2 -2.4V5M2 -2.4V5"/></g><g transform="translate(74.2,832.5)" fill="none" stroke="#131722" stroke-width="1.1" stroke-linecap="round" stroke-linejoin="round" ><path d="M0 -9.5L8.7 -3.6L0 2.3L-8.7 -3.6Z"/><path d="M-8.7 -0.3L0 5.6L8.7 -0.3M-8.7 3L0 8.9L8.7 3"/></g><rect x="56" y="411" width="36" height="1" fill="#E0E3EB"/><rect x="56" y="495" width="36" height="1" fill="#E0E3EB"/><rect x="56" y="652" width="36" height="1" fill="#E0E3EB"/><g transform="translate(66.4,87.3)" fill="none" stroke="#131722" stroke-width="1.2" stroke-linecap="round" stroke-linejoin="round" ><circle r="9.1"/><path d="M-4.5 0H4.5M0 -4.5V4.5"/></g><rect x="90" y="76" width="1" height="22" fill="#E0E3EB"/><rect x="145" y="76" width="1" height="22" fill="#E0E3EB"/><rect x="192" y="76" width="1" height="22" fill="#E0E3EB"/><rect x="346" y="76" width="1" height="22" fill="#E0E3EB"/><rect x="447" y="76" width="1" height="22" fill="#E0E3EB"/><rect x="1831" y="76" width="1" height="22" fill="#E0E3EB"/><g transform="translate(170,87)" fill="none" stroke="#131722" stroke-width="1.2" stroke-linecap="round" stroke-linejoin="round" ><rect x="-6.5" y="-6.5" width="4" height="13"/><path d="M-4.5 -9.5V-6.5M-4.5 6.5V9.5"/><rect x="2.5" y="-3.5" width="4" height="7"/><path d="M4.5 -6.5V-3.5M4.5 3.5V6.5"/></g><g transform="translate(215,87)" fill="none" stroke="#131722" stroke-width="1.2" stroke-linecap="round" stroke-linejoin="round" ><path d="M-6 8C-3.5 9 -2.5 7.5 -2 5L0.5 -6.5C1 -8.5 2.5 -9.5 4.5 -8.5M-4.5 -2.5H3.5"/><path d="M2.5 3.5L7.5 8.5M7.5 3.5L2.5 8.5" stroke-width="1.4"/></g><g transform="translate(323,87)" fill="none" stroke="#131722" stroke-width="1.2" stroke-linecap="round" stroke-linejoin="round" ><rect x="-7.5" y="-7.5" width="6" height="6" rx="1.5"/><rect x="1.5" y="-7.5" width="6" height="6" rx="1.5"/><rect x="-7.5" y="1.5" width="6" height="6" rx="1.5"/><rect x="1.5" y="1.5" width="6" height="6" rx="1.5"/></g><g transform="translate(364.8,94.2)" fill="none" stroke="#555" stroke-width="2" stroke-linecap="round" stroke-linejoin="round" ><path d="M0 -13.6A13.6 13.6 0 0 1 13.6 0M0 -7.8A7.8 7.8 0 0 1 7.8 0" stroke-width="2.7" stroke-linecap="butt"/><circle cx="1.5" cy="-1.5" r="2" fill="#555" stroke="none"/></g><g transform="translate(1817,87)" fill="none" stroke="#131722" stroke-width="1" stroke-linecap="round" stroke-linejoin="round" ><path d="M-4 -2L0 2L4 -2"/></g><g transform="translate(1855,87)" fill="none" stroke="#131722" stroke-width="1.2" stroke-linecap="round" stroke-linejoin="round" ><path d="M7.24 -1.93L9.49 -1.43L9.49 1.43L7.24 1.93L6.48 3.76L7.73 5.70L5.70 7.73L3.76 6.48L1.93 7.24L1.43 9.49L-1.43 9.49L-1.93 7.24L-3.76 6.48L-5.70 7.73L-7.73 5.70L-6.48 3.76L-7.24 1.93L-9.49 1.43L-9.49 -1.43L-7.24 -1.93L-6.48 -3.76L-7.73 -5.70L-5.70 -7.73L-3.76 -6.48L-1.93 -7.24L-1.43 -9.49L1.43 -9.49L1.93 -7.24L3.76 -6.48L5.70 -7.73L7.73 -5.70L6.48 -3.76Z"/><circle r="3.1"/></g><g transform="translate(1892.5,87)" fill="none" stroke="#131722" stroke-width="1.3" stroke-linecap="round" stroke-linejoin="round" ><path d="M-10 -5A1.5 1.5 0 0 1 -8.5 -6.5H-5.5L-4 -9H4L5.5 -6.5H8.5A1.5 1.5 0 0 1 10 -5V6A1.5 1.5 0 0 1 8.5 7.5H-8.5A1.5 1.5 0 0 1 -10 6Z" /><circle cy="0.5" r="4.1"/></g><rect x="361" y="837" width="1" height="22" fill="#E0E3EB"/><rect x="1799" y="837" width="1" height="22" fill="#E0E3EB"/><g transform="translate(387,848)" fill="none" stroke="#131722" stroke-width="1.1" stroke-linecap="round" stroke-linejoin="round" ><path d="M-7 -2V-5.5A1.5 1.5 0 0 1 -5.5 -7H6A1.5 1.5 0 0 1 7.5 -5.5V5.5A1.5 1.5 0 0 1 6 7H2.5M-7 -3H7.5M-3 -9V-6M3.5 -9V-6M-9 2.5H-1M-4 -0.5L-1 2.5L-4 5.5"/></g><g transform="translate(1880.5,814.5)" fill="none" stroke="#131722" stroke-width="1.1" stroke-linecap="round" stroke-linejoin="round" ><circle r="5"/><path d="M0 -7.4V-6M0 6V7.4M-7.4 0H-6M6 0H7.4M-5.3 -5.3L-4.3 -4.3M4.3 4.3L5.3 5.3M-5.3 5.3L-4.3 4.3M4.3 -4.3L5.3 -5.3"/></g><path transform="translate(62.9,21.9)" d="M0 -8.4L2.6 -3L8.5 -2.3L4.1 1.8L5.2 7.7L0 4.8L-5.2 7.7L-4.1 1.8L-8.5 -2.3L-2.6 -3Z" fill="#C4C4C4" stroke="#C4C4C4" stroke-width="1.2" stroke-linejoin="round"/><circle cx="94" cy="19.8" r="16.1" fill="#D1A02D"/><g fill="#fff"><path d="M90.6 14.2H97.6L99.3 20.9H88.9Z"/><path d="M85.6 22H92.7L93.9 26.7H83.9Z"/><path d="M95.9 22H103.1L104.8 26.7H94.7Z"/></g><rect x="1315" y="6" width="128" height="30" rx="4" fill="#EAEAEA"/><rect x="1315" y="6" width="28" height="30" rx="4" fill="#EA3D53"/><rect x="1459" y="6" width="127" height="30" rx="4" fill="#EAEAEA"/><rect x="1459" y="6" width="27" height="30" rx="4" fill="#0AA68C"/><rect x="113.5" y="212.5" width="28" height="20" rx="3" fill="#fff" stroke="#D1D4DC"/><path d="M123.5 224.5L127.5 220.5L131.5 224.5" fill="none" stroke="#131722" stroke-width="1.3"/><circle cx="282" cy="126" r="8.5" fill="rgba(8,153,129,0.18)"/><circle cx="282" cy="126" r="3.6" fill="#089981"/><circle cx="127.5" cy="777.5" r="16" fill="#fff" stroke="#E6E8EE"/><g fill="#131722" transform="translate(127.5,777.5)"><path d="M-10.5 -5H-1.5V5.5H-5.8V-0.8H-10.5Z"/><circle cx="1.8" cy="-2.9" r="2.1"/><path d="M5.2 -5H10.5L6 5.5H0.7Z"/></g><path d="M100 786.5H97.5a3 3 0 0 0 -3 3V809.5a3 3 0 0 0 3 3H100Z" fill="#fff" stroke="#E0E3EB"/><path d="M98.8 796.2L97 799.2L98.8 802.2" fill="none" stroke="#8FA2E0" stroke-width="1"/></svg><div class="abs" style="left:109px;top:114px;width:165px;height:24px;background:rgba(255,255,255,0.58)"></div><div class="abs" style="left:303px;top:114px;width:336px;height:22px;background:rgba(255,255,255,0.58)"></div><div class="abs" style="left:109px;top:138px;width:146.5px;height:24px;background:rgba(255,255,255,0.58)"></div><div class="abs" style="left:109px;top:162px;width:151px;height:24px;background:rgba(255,255,255,0.58)"></div><div class="abs" style="left:109px;top:186px;width:151px;height:24px;background:rgba(255,255,255,0.58)"></div><div class="abs" style="left:109px;top:597px;width:120px;height:19px;background:rgba(255,255,255,0.58)"></div><div class="abs" style="left:235px;top:597px;width:116px;height:19px;background:rgba(255,255,255,0.58)"></div><div class="t" id="t0" style="left:113.00px;top:7.02px;font-size:13.8px;color:#2468F2;font-weight:bold;letter-spacing:0.000px;transform:scaleX(1.0950);transform-origin:0 0;">XAUUSD</div><div class="t" id="t1" style="left:112.54px;top:23.02px;font-size:13.3px;color:#6A6D78;font-weight:normal;letter-spacing:-0.086px;">Gold / US Dollar</div><div class="t" id="t2" style="left:221.45px;top:24.02px;font-size:14.5px;color:#EF4056;font-weight:normal;letter-spacing:0.102px;">-2.07(-0.11%)</div><div class="t" id="t3" style="left:56.27px;top:49.02px;font-size:12px;color:#222;font-weight:normal;letter-spacing:-0.332px;"><span style="color:#6A6D78">Open:</span> 1957.01</div><div class="t" id="t4" style="left:646.64px;top:49.02px;font-size:12px;color:#222;font-weight:normal;letter-spacing:-0.274px;"><span style="color:#6A6D78">Day's Range:</span> 1614.0 - 2081.0</div><div class="t" id="t5" style="left:1236.31px;top:49.02px;font-size:12px;color:#222;font-weight:normal;letter-spacing:-0.215px;"><span style="color:#6A6D78">52 Week Range:</span> 1919.24 - 1967.9</div><div class="t" id="t6" style="left:1323.76px;top:13.02px;font-size:15px;color:#fff;font-weight:normal;letter-spacing:0.684px;">S</div><div class="t" id="t7" style="left:1383.98px;top:14.02px;font-size:14.8px;color:#333;font-weight:normal;letter-spacing:-0.557px;">1930.12</div><div class="t" id="t8" style="left:1467.01px;top:13.02px;font-size:15px;color:#fff;font-weight:normal;letter-spacing:0.384px;">B</div><div class="t" id="t9" style="left:1525.34px;top:14.02px;font-size:14.8px;color:#333;font-weight:normal;letter-spacing:-0.486px;">1930.21</div><div class="t" id="t10" style="left:104.59px;top:81.02px;font-size:13.5px;color:#131722;font-weight:normal;letter-spacing:0.211px;-webkit-text-stroke:0.3px #131722;">30m</div><div class="t" id="t11" style="left:232.22px;top:81.02px;font-size:13.5px;color:#131722;font-weight:normal;letter-spacing:0.357px;-webkit-text-stroke:0.3px #131722;">Indicators</div><div class="t" id="t12" style="left:389.88px;top:81.02px;font-size:13.5px;color:#131722;font-weight:normal;letter-spacing:-0.169px;-webkit-text-stroke:0.3px #131722;">Signals</div><div class="t" id="t13" style="left:456.67px;top:81.02px;font-size:13.5px;color:#131722;font-weight:normal;letter-spacing:0.252px;-webkit-text-stroke:0.3px #131722;">Backtest</div><div class="t" id="t14" style="left:1759.46px;top:76.02px;font-size:13.5px;color:#131722;font-weight:normal;letter-spacing:-0.320px;-webkit-text-stroke:0.3px #131722;">Save</div><div class="t" id="t15" style="left:1763.30px;top:91.02px;font-size:9px;color:#4343F5;font-weight:normal;letter-spacing:0.196px;">Save</div><div class="t" id="t16" style="left:112.63px;top:119.02px;font-size:15px;color:#131722;font-weight:normal;letter-spacing:0.343px;">Gold / US Dollar · 30</div><div class="t" id="t17" style="left:306.94px;top:122.02px;font-size:12.3px;color:#131722;font-weight:normal;letter-spacing:-0.278px;">O</div><div class="t" id="t18" style="left:317.98px;top:122.02px;font-size:12.3px;color:#F23645;font-weight:normal;letter-spacing:0.035px;">1930.55</div><div class="t" id="t19" style="left:368.90px;top:122.02px;font-size:12.3px;color:#131722;font-weight:normal;letter-spacing:0.009px;">H</div><div class="t" id="t20" style="left:380.17px;top:122.02px;font-size:12.3px;color:#F23645;font-weight:normal;letter-spacing:-0.150px;">1931.52</div><div class="t" id="t21" style="left:430.12px;top:122.02px;font-size:12.3px;color:#131722;font-weight:normal;letter-spacing:-0.044px;">L</div><div class="t" id="t22" style="left:437.62px;top:122.02px;font-size:12.3px;color:#F23645;font-weight:normal;letter-spacing:0.164px;">1929.60</div><div class="t" id="t23" style="left:489.60px;top:122.02px;font-size:12.3px;color:#131722;font-weight:normal;letter-spacing:-0.791px;">C</div><div class="t" id="t24" style="left:498.09px;top:122.02px;font-size:12.3px;color:#F23645;font-weight:normal;letter-spacing:0.021px;">1930.12</div><div class="t" id="t25" style="left:549.39px;top:122.02px;font-size:12.3px;color:#F23645;font-weight:normal;letter-spacing:0.215px;">−0.42</div><div class="t" id="t26" style="left:586.51px;top:122.02px;font-size:12.3px;color:#F23645;font-weight:normal;letter-spacing:-0.219px;">(−0.02%)</div><div class="t" id="t27" style="left:112.59px;top:145.02px;font-size:12px;color:#131722;font-weight:normal;letter-spacing:0.428px;">Volume</div><div class="t" id="t28" style="left:158.87px;top:145.02px;font-size:12px;color:#5D606B;font-weight:normal;letter-spacing:-0.332px;">SMA 9</div><div class="t" id="t29" style="left:205.99px;top:145.02px;font-size:12px;color:#089981;font-weight:normal;letter-spacing:0.426px;">256.28K</div><div class="t" id="t30" style="left:112.93px;top:170.02px;font-size:11.2px;color:#131722;font-weight:normal;letter-spacing:-0.266px;">SMMA</div><div class="t" id="t31" style="left:148.92px;top:169.02px;font-size:12px;color:#5D606B;font-weight:normal;letter-spacing:0.350px;">50 close</div><div class="t" id="t32" style="left:210.73px;top:169.02px;font-size:12px;color:#673AB7;font-weight:normal;letter-spacing:0.344px;">1937.46</div><div class="t" id="t33" style="left:112.93px;top:194.02px;font-size:11.2px;color:#131722;font-weight:normal;letter-spacing:-0.266px;">SMMA</div><div class="t" id="t34" style="left:148.92px;top:193.02px;font-size:12px;color:#5D606B;font-weight:normal;letter-spacing:0.350px;">20 close</div><div class="t" id="t35" style="left:210.73px;top:193.02px;font-size:12px;color:#00BCD4;font-weight:normal;letter-spacing:0.344px;">1933.10</div><div class="t" id="t36" style="left:112.48px;top:601.02px;font-size:12px;color:#131722;font-weight:normal;letter-spacing:-0.561px;">MACD</div><div class="t" id="t37" style="left:150.07px;top:601.02px;font-size:12px;color:#5D606B;font-weight:normal;letter-spacing:0.262px;">12 26 close 9</div><div class="t" id="t38" style="left:238.82px;top:601.02px;font-size:12px;color:#FCCBCD;font-weight:normal;letter-spacing:0.365px;">−0.32</div><div class="t" id="t39" style="left:277.64px;top:601.02px;font-size:12px;color:#2196F3;font-weight:normal;letter-spacing:0.125px;">−0.86</div><div class="t" id="t40" style="left:315.57px;top:601.02px;font-size:12px;color:#FF6D00;font-weight:normal;letter-spacing:0.265px;">−0.54</div><div class="t" id="t41" style="left:112.20px;top:684.02px;font-size:12px;color:#131722;font-weight:normal;letter-spacing:0.008px;">Stoch RSI</div><div class="t" id="t42" style="left:170.26px;top:684.02px;font-size:12px;color:#5D606B;font-weight:normal;letter-spacing:0.284px;">14 14 3 3</div><div class="t" id="t43" style="left:236.23px;top:684.02px;font-size:12px;color:#2196F3;font-weight:normal;letter-spacing:0.534px;">21.66</div><div class="t" id="t44" style="left:274.69px;top:684.02px;font-size:12px;color:#FF6D00;font-weight:normal;letter-spacing:0.612px;">11.33</div><div class="t" id="t45" style="left:120.01px;top:842.02px;font-size:13.5px;color:#131722;font-weight:normal;letter-spacing:0.184px;-webkit-text-stroke:0.2px #131722;">1h</div><div class="t" id="t46" style="left:148.33px;top:842.02px;font-size:13.5px;color:#131722;font-weight:normal;letter-spacing:0.334px;-webkit-text-stroke:0.2px #131722;">4h</div><div class="t" id="t47" style="left:178.23px;top:842.02px;font-size:13.5px;color:#131722;font-weight:normal;letter-spacing:-0.066px;-webkit-text-stroke:0.2px #131722;">1d</div><div class="t" id="t48" style="left:206.73px;top:842.02px;font-size:13.5px;color:#131722;font-weight:normal;letter-spacing:0.334px;-webkit-text-stroke:0.2px #131722;">5d</div><div class="t" id="t49" style="left:236.39px;top:842.02px;font-size:13.5px;color:#131722;font-weight:normal;letter-spacing:0.217px;-webkit-text-stroke:0.2px #131722;">1m</div><div class="t" id="t50" style="left:268.52px;top:842.02px;font-size:13.5px;color:#131722;font-weight:normal;letter-spacing:0.367px;-webkit-text-stroke:0.2px #131722;">3m</div><div class="t" id="t51" style="left:301.94px;top:842.02px;font-size:13.5px;color:#131722;font-weight:normal;letter-spacing:0.317px;-webkit-text-stroke:0.2px #131722;">1y</div><div class="t" id="t52" style="left:329.57px;top:842.02px;font-size:13.5px;color:#131722;font-weight:normal;letter-spacing:0.667px;-webkit-text-stroke:0.2px #131722;">3y</div><div class="t" id="t53" style="left:1673.73px;top:842.02px;font-size:12.9px;color:#131722;font-weight:normal;letter-spacing:0.341px;-webkit-text-stroke:0.2px #131722;">08:30:19 (UTC+2)</div><div class="t" id="t54" style="left:1811.41px;top:841.02px;font-size:13.5px;color:#131722;font-weight:normal;letter-spacing:1.584px;-webkit-text-stroke:0.2px #131722;">%</div><div class="t" id="t55" style="left:1839.95px;top:841.02px;font-size:13.5px;color:#131722;font-weight:normal;letter-spacing:0.295px;-webkit-text-stroke:0.2px #131722;">log</div><div class="t" id="t56" style="left:1872.27px;top:841.02px;font-size:13.5px;color:#131722;font-weight:normal;letter-spacing:0.655px;-webkit-text-stroke:0.2px #131722;">auto</div></body></html>
